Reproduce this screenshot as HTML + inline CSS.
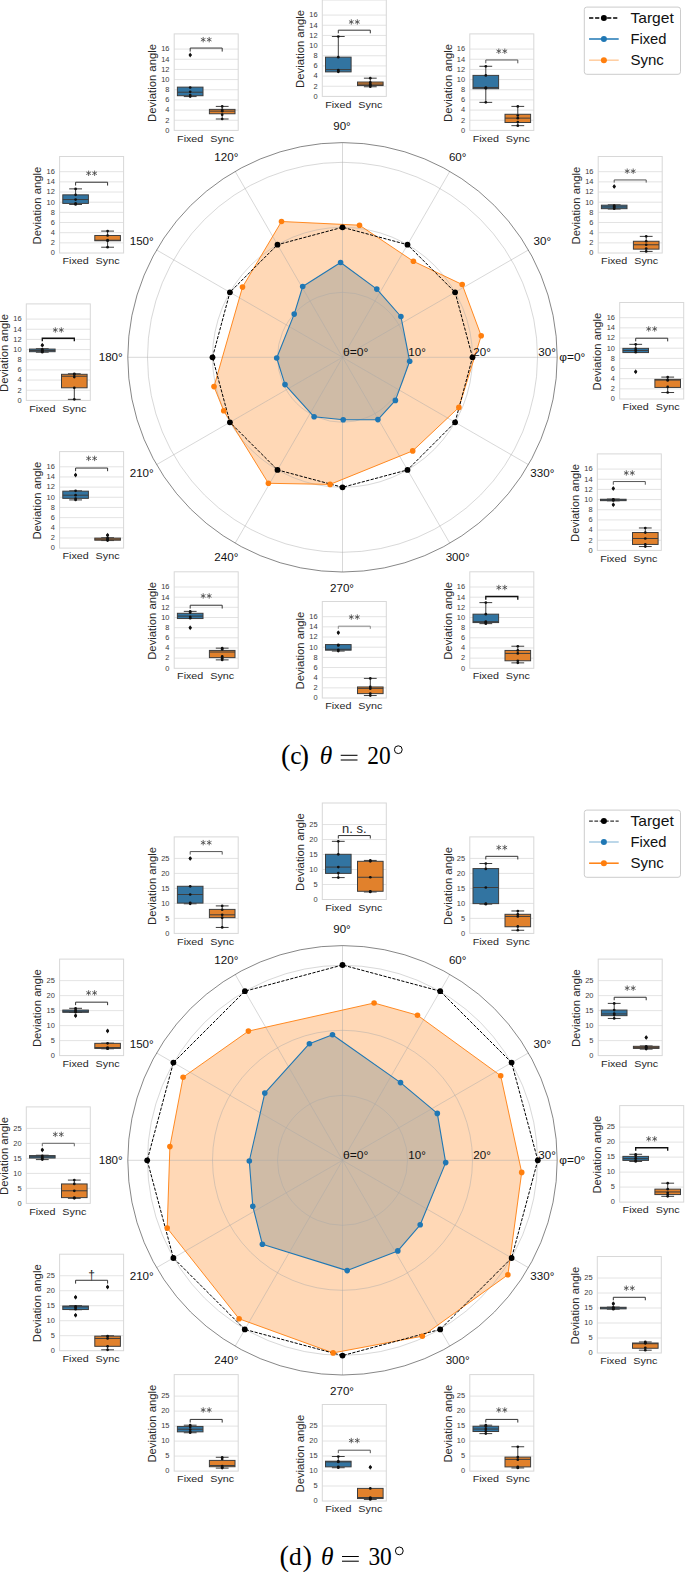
<!DOCTYPE html>
<html><head><meta charset="utf-8"><title>figure</title>
<style>html,body{margin:0;padding:0;background:#fff;}svg{display:block;font-family:"Liberation Sans",sans-serif;}</style>
</head><body>
<svg width="685" height="1572" viewBox="0 0 685 1572">
<rect width="685" height="1572" fill="#fff"/>
<g id="polar-top">
<circle cx="342.5" cy="357.3" r="214.7" fill="#fff"/>
<polygon points="409.7,361.2 400.9,316.5 376.8,289.1 340.6,262.5 302.7,286.5 294.2,314.1 276.7,358.0 285.0,384.6 314.1,416.8 343.2,419.7 377.9,419.6 395.4,400.4" fill="#1f77b4" fill-opacity="0.3"/>
<polygon points="481.2,335.8 462.2,284.5 413.4,261.3 359.5,225.2 281.5,221.5 242.5,287.1 214.0,386.6 223.7,410.7 268.4,483.3 330.1,484.4 412.7,450.9 458.9,407.4" fill="#ff7f0e" fill-opacity="0.3"/>
<line x1="342.5" y1="357.3" x2="557.20" y2="357.30" stroke="#a8a8a8" stroke-opacity="0.75" stroke-width="0.6"/>
<line x1="342.5" y1="357.3" x2="528.44" y2="249.95" stroke="#a8a8a8" stroke-opacity="0.75" stroke-width="0.6"/>
<line x1="342.5" y1="357.3" x2="449.85" y2="171.36" stroke="#a8a8a8" stroke-opacity="0.75" stroke-width="0.6"/>
<line x1="342.5" y1="357.3" x2="342.50" y2="142.60" stroke="#a8a8a8" stroke-opacity="0.75" stroke-width="0.6"/>
<line x1="342.5" y1="357.3" x2="235.15" y2="171.36" stroke="#a8a8a8" stroke-opacity="0.75" stroke-width="0.6"/>
<line x1="342.5" y1="357.3" x2="156.56" y2="249.95" stroke="#a8a8a8" stroke-opacity="0.75" stroke-width="0.6"/>
<line x1="342.5" y1="357.3" x2="127.80" y2="357.30" stroke="#a8a8a8" stroke-opacity="0.75" stroke-width="0.6"/>
<line x1="342.5" y1="357.3" x2="156.56" y2="464.65" stroke="#a8a8a8" stroke-opacity="0.75" stroke-width="0.6"/>
<line x1="342.5" y1="357.3" x2="235.15" y2="543.24" stroke="#a8a8a8" stroke-opacity="0.75" stroke-width="0.6"/>
<line x1="342.5" y1="357.3" x2="342.50" y2="572.00" stroke="#a8a8a8" stroke-opacity="0.75" stroke-width="0.6"/>
<line x1="342.5" y1="357.3" x2="449.85" y2="543.24" stroke="#a8a8a8" stroke-opacity="0.75" stroke-width="0.6"/>
<line x1="342.5" y1="357.3" x2="528.44" y2="464.65" stroke="#a8a8a8" stroke-opacity="0.75" stroke-width="0.6"/>
<circle cx="342.5" cy="357.3" r="65" fill="none" stroke="#a8a8a8" stroke-opacity="0.75" stroke-width="0.6"/>
<circle cx="342.5" cy="357.3" r="130" fill="none" stroke="#a8a8a8" stroke-opacity="0.75" stroke-width="0.6"/>
<circle cx="342.5" cy="357.3" r="195" fill="none" stroke="#a8a8a8" stroke-opacity="0.75" stroke-width="0.6"/>
<circle cx="342.5" cy="357.3" r="214.7" fill="none" stroke="#222" stroke-width="0.55"/>
<polygon points="409.7,361.2 400.9,316.5 376.8,289.1 340.6,262.5 302.7,286.5 294.2,314.1 276.7,358.0 285.0,384.6 314.1,416.8 343.2,419.7 377.9,419.6 395.4,400.4" fill="none" stroke="#1f77b4" stroke-width="1.1" stroke-linejoin="round"/>
<polygon points="481.2,335.8 462.2,284.5 413.4,261.3 359.5,225.2 281.5,221.5 242.5,287.1 214.0,386.6 223.7,410.7 268.4,483.3 330.1,484.4 412.7,450.9 458.9,407.4" fill="none" stroke="#ff7f0e" stroke-width="0.9" stroke-linejoin="round"/>
<polygon points="472.5,357.3 455.1,292.3 407.5,244.7 342.5,227.3 277.5,244.7 229.9,292.3 212.5,357.3 229.9,422.3 277.5,469.9 342.5,487.3 407.5,469.9 455.1,422.3" fill="none" stroke="#000" stroke-width="1" stroke-dasharray="3.2 1.4"/>
<circle cx="409.7" cy="361.2" r="2.8" fill="#1f77b4"/>
<circle cx="400.9" cy="316.5" r="2.8" fill="#1f77b4"/>
<circle cx="376.8" cy="289.1" r="2.8" fill="#1f77b4"/>
<circle cx="340.6" cy="262.5" r="2.8" fill="#1f77b4"/>
<circle cx="302.7" cy="286.5" r="2.8" fill="#1f77b4"/>
<circle cx="294.2" cy="314.1" r="2.8" fill="#1f77b4"/>
<circle cx="276.7" cy="358.0" r="2.8" fill="#1f77b4"/>
<circle cx="285.0" cy="384.6" r="2.8" fill="#1f77b4"/>
<circle cx="314.1" cy="416.8" r="2.8" fill="#1f77b4"/>
<circle cx="343.2" cy="419.7" r="2.8" fill="#1f77b4"/>
<circle cx="377.9" cy="419.6" r="2.8" fill="#1f77b4"/>
<circle cx="395.4" cy="400.4" r="2.8" fill="#1f77b4"/>
<circle cx="481.2" cy="335.8" r="2.8" fill="#ff7f0e"/>
<circle cx="462.2" cy="284.5" r="2.8" fill="#ff7f0e"/>
<circle cx="413.4" cy="261.3" r="2.8" fill="#ff7f0e"/>
<circle cx="359.5" cy="225.2" r="2.8" fill="#ff7f0e"/>
<circle cx="281.5" cy="221.5" r="2.8" fill="#ff7f0e"/>
<circle cx="242.5" cy="287.1" r="2.8" fill="#ff7f0e"/>
<circle cx="214.0" cy="386.6" r="2.8" fill="#ff7f0e"/>
<circle cx="223.7" cy="410.7" r="2.8" fill="#ff7f0e"/>
<circle cx="268.4" cy="483.3" r="2.8" fill="#ff7f0e"/>
<circle cx="330.1" cy="484.4" r="2.8" fill="#ff7f0e"/>
<circle cx="412.7" cy="450.9" r="2.8" fill="#ff7f0e"/>
<circle cx="458.9" cy="407.4" r="2.8" fill="#ff7f0e"/>
<circle cx="472.5" cy="357.3" r="2.9" fill="#000"/>
<circle cx="455.1" cy="292.3" r="2.9" fill="#000"/>
<circle cx="407.5" cy="244.7" r="2.9" fill="#000"/>
<circle cx="342.5" cy="227.3" r="2.9" fill="#000"/>
<circle cx="277.5" cy="244.7" r="2.9" fill="#000"/>
<circle cx="229.9" cy="292.3" r="2.9" fill="#000"/>
<circle cx="212.5" cy="357.3" r="2.9" fill="#000"/>
<circle cx="229.9" cy="422.3" r="2.9" fill="#000"/>
<circle cx="277.5" cy="469.9" r="2.9" fill="#000"/>
<circle cx="342.5" cy="487.3" r="2.9" fill="#000"/>
<circle cx="407.5" cy="469.9" r="2.9" fill="#000"/>
<circle cx="455.1" cy="422.3" r="2.9" fill="#000"/>
<text x="572.30" y="361.00" font-size="10.2" text-anchor="middle" textLength="26" lengthAdjust="spacingAndGlyphs" fill="#111">φ=0°</text>
<text x="542.31" y="245.35" font-size="10.2" text-anchor="middle" textLength="17.5" lengthAdjust="spacingAndGlyphs" fill="#111">30°</text>
<text x="457.65" y="160.69" font-size="10.2" text-anchor="middle" textLength="17.5" lengthAdjust="spacingAndGlyphs" fill="#111">60°</text>
<text x="342.00" y="129.70" font-size="10.2" text-anchor="middle" textLength="17.5" lengthAdjust="spacingAndGlyphs" fill="#111">90°</text>
<text x="226.35" y="160.69" font-size="10.2" text-anchor="middle" textLength="24" lengthAdjust="spacingAndGlyphs" fill="#111">120°</text>
<text x="141.69" y="245.35" font-size="10.2" text-anchor="middle" textLength="24" lengthAdjust="spacingAndGlyphs" fill="#111">150°</text>
<text x="110.70" y="361.00" font-size="10.2" text-anchor="middle" textLength="24" lengthAdjust="spacingAndGlyphs" fill="#111">180°</text>
<text x="141.69" y="476.65" font-size="10.2" text-anchor="middle" textLength="24" lengthAdjust="spacingAndGlyphs" fill="#111">210°</text>
<text x="226.35" y="561.31" font-size="10.2" text-anchor="middle" textLength="24" lengthAdjust="spacingAndGlyphs" fill="#111">240°</text>
<text x="342.00" y="592.30" font-size="10.2" text-anchor="middle" textLength="24" lengthAdjust="spacingAndGlyphs" fill="#111">270°</text>
<text x="457.65" y="561.31" font-size="10.2" text-anchor="middle" textLength="24" lengthAdjust="spacingAndGlyphs" fill="#111">300°</text>
<text x="542.31" y="476.65" font-size="10.2" text-anchor="middle" textLength="24" lengthAdjust="spacingAndGlyphs" fill="#111">330°</text>
<text x="343.00" y="355.60" font-size="10.2" textLength="25.4" lengthAdjust="spacingAndGlyphs" fill="#111">θ=0°</text>
<text x="408.30" y="355.60" font-size="10.2" textLength="17.5" lengthAdjust="spacingAndGlyphs" fill="#111">10°</text>
<text x="473.30" y="355.60" font-size="10.2" textLength="17.5" lengthAdjust="spacingAndGlyphs" fill="#111">20°</text>
<text x="538.30" y="355.60" font-size="10.2" textLength="17.5" lengthAdjust="spacingAndGlyphs" fill="#111">30°</text>
</g>
<g id="polar-bot">
<circle cx="342.5" cy="1160.3" r="214.7" fill="#fff"/>
<polygon points="445.7,1162.6 437.3,1113.4 400.5,1082.6 332.5,1034.7 309.4,1043.7 264.8,1093.1 249.3,1161.0 252.8,1206.3 262.4,1244.3 347.2,1270.6 397.8,1250.9 420.2,1224.8" fill="#1f77b4" fill-opacity="0.3"/>
<polygon points="521.7,1172.4 500.7,1075.7 417.5,1015.2 374.1,1003.0 248.4,1031.1 183.1,1077.2 169.9,1146.6 167.2,1228.1 239.1,1318.8 333.1,1352.9 422.3,1336.2 507.9,1274.8" fill="#ff7f0e" fill-opacity="0.3"/>
<line x1="342.5" y1="1160.3" x2="557.20" y2="1160.30" stroke="#a8a8a8" stroke-opacity="0.75" stroke-width="0.6"/>
<line x1="342.5" y1="1160.3" x2="528.44" y2="1052.95" stroke="#a8a8a8" stroke-opacity="0.75" stroke-width="0.6"/>
<line x1="342.5" y1="1160.3" x2="449.85" y2="974.36" stroke="#a8a8a8" stroke-opacity="0.75" stroke-width="0.6"/>
<line x1="342.5" y1="1160.3" x2="342.50" y2="945.60" stroke="#a8a8a8" stroke-opacity="0.75" stroke-width="0.6"/>
<line x1="342.5" y1="1160.3" x2="235.15" y2="974.36" stroke="#a8a8a8" stroke-opacity="0.75" stroke-width="0.6"/>
<line x1="342.5" y1="1160.3" x2="156.56" y2="1052.95" stroke="#a8a8a8" stroke-opacity="0.75" stroke-width="0.6"/>
<line x1="342.5" y1="1160.3" x2="127.80" y2="1160.30" stroke="#a8a8a8" stroke-opacity="0.75" stroke-width="0.6"/>
<line x1="342.5" y1="1160.3" x2="156.56" y2="1267.65" stroke="#a8a8a8" stroke-opacity="0.75" stroke-width="0.6"/>
<line x1="342.5" y1="1160.3" x2="235.15" y2="1346.24" stroke="#a8a8a8" stroke-opacity="0.75" stroke-width="0.6"/>
<line x1="342.5" y1="1160.3" x2="342.50" y2="1375.00" stroke="#a8a8a8" stroke-opacity="0.75" stroke-width="0.6"/>
<line x1="342.5" y1="1160.3" x2="449.85" y2="1346.24" stroke="#a8a8a8" stroke-opacity="0.75" stroke-width="0.6"/>
<line x1="342.5" y1="1160.3" x2="528.44" y2="1267.65" stroke="#a8a8a8" stroke-opacity="0.75" stroke-width="0.6"/>
<circle cx="342.5" cy="1160.3" r="65" fill="none" stroke="#a8a8a8" stroke-opacity="0.75" stroke-width="0.6"/>
<circle cx="342.5" cy="1160.3" r="130" fill="none" stroke="#a8a8a8" stroke-opacity="0.75" stroke-width="0.6"/>
<circle cx="342.5" cy="1160.3" r="195" fill="none" stroke="#a8a8a8" stroke-opacity="0.75" stroke-width="0.6"/>
<circle cx="342.5" cy="1160.3" r="214.7" fill="none" stroke="#222" stroke-width="0.55"/>
<polygon points="445.7,1162.6 437.3,1113.4 400.5,1082.6 332.5,1034.7 309.4,1043.7 264.8,1093.1 249.3,1161.0 252.8,1206.3 262.4,1244.3 347.2,1270.6 397.8,1250.9 420.2,1224.8" fill="none" stroke="#1f77b4" stroke-width="1.1" stroke-linejoin="round"/>
<polygon points="521.7,1172.4 500.7,1075.7 417.5,1015.2 374.1,1003.0 248.4,1031.1 183.1,1077.2 169.9,1146.6 167.2,1228.1 239.1,1318.8 333.1,1352.9 422.3,1336.2 507.9,1274.8" fill="none" stroke="#ff7f0e" stroke-width="0.9" stroke-linejoin="round"/>
<polygon points="537.8,1160.3 511.6,1062.6 440.2,991.2 342.5,965.0 244.9,991.2 173.4,1062.6 147.2,1160.3 173.4,1258.0 244.8,1329.4 342.5,1355.6 440.2,1329.4 511.6,1258.0" fill="none" stroke="#000" stroke-width="1" stroke-dasharray="3.2 1.4"/>
<circle cx="445.7" cy="1162.6" r="2.8" fill="#1f77b4"/>
<circle cx="437.3" cy="1113.4" r="2.8" fill="#1f77b4"/>
<circle cx="400.5" cy="1082.6" r="2.8" fill="#1f77b4"/>
<circle cx="332.5" cy="1034.7" r="2.8" fill="#1f77b4"/>
<circle cx="309.4" cy="1043.7" r="2.8" fill="#1f77b4"/>
<circle cx="264.8" cy="1093.1" r="2.8" fill="#1f77b4"/>
<circle cx="249.3" cy="1161.0" r="2.8" fill="#1f77b4"/>
<circle cx="252.8" cy="1206.3" r="2.8" fill="#1f77b4"/>
<circle cx="262.4" cy="1244.3" r="2.8" fill="#1f77b4"/>
<circle cx="347.2" cy="1270.6" r="2.8" fill="#1f77b4"/>
<circle cx="397.8" cy="1250.9" r="2.8" fill="#1f77b4"/>
<circle cx="420.2" cy="1224.8" r="2.8" fill="#1f77b4"/>
<circle cx="521.7" cy="1172.4" r="2.8" fill="#ff7f0e"/>
<circle cx="500.7" cy="1075.7" r="2.8" fill="#ff7f0e"/>
<circle cx="417.5" cy="1015.2" r="2.8" fill="#ff7f0e"/>
<circle cx="374.1" cy="1003.0" r="2.8" fill="#ff7f0e"/>
<circle cx="248.4" cy="1031.1" r="2.8" fill="#ff7f0e"/>
<circle cx="183.1" cy="1077.2" r="2.8" fill="#ff7f0e"/>
<circle cx="169.9" cy="1146.6" r="2.8" fill="#ff7f0e"/>
<circle cx="167.2" cy="1228.1" r="2.8" fill="#ff7f0e"/>
<circle cx="239.1" cy="1318.8" r="2.8" fill="#ff7f0e"/>
<circle cx="333.1" cy="1352.9" r="2.8" fill="#ff7f0e"/>
<circle cx="422.3" cy="1336.2" r="2.8" fill="#ff7f0e"/>
<circle cx="507.9" cy="1274.8" r="2.8" fill="#ff7f0e"/>
<circle cx="537.8" cy="1160.3" r="2.9" fill="#000"/>
<circle cx="511.6" cy="1062.6" r="2.9" fill="#000"/>
<circle cx="440.2" cy="991.2" r="2.9" fill="#000"/>
<circle cx="342.5" cy="965.0" r="2.9" fill="#000"/>
<circle cx="244.9" cy="991.2" r="2.9" fill="#000"/>
<circle cx="173.4" cy="1062.6" r="2.9" fill="#000"/>
<circle cx="147.2" cy="1160.3" r="2.9" fill="#000"/>
<circle cx="173.4" cy="1258.0" r="2.9" fill="#000"/>
<circle cx="244.8" cy="1329.4" r="2.9" fill="#000"/>
<circle cx="342.5" cy="1355.6" r="2.9" fill="#000"/>
<circle cx="440.2" cy="1329.4" r="2.9" fill="#000"/>
<circle cx="511.6" cy="1258.0" r="2.9" fill="#000"/>
<text x="572.30" y="1164.00" font-size="10.2" text-anchor="middle" textLength="26" lengthAdjust="spacingAndGlyphs" fill="#111">φ=0°</text>
<text x="542.31" y="1048.35" font-size="10.2" text-anchor="middle" textLength="17.5" lengthAdjust="spacingAndGlyphs" fill="#111">30°</text>
<text x="457.65" y="963.69" font-size="10.2" text-anchor="middle" textLength="17.5" lengthAdjust="spacingAndGlyphs" fill="#111">60°</text>
<text x="342.00" y="932.70" font-size="10.2" text-anchor="middle" textLength="17.5" lengthAdjust="spacingAndGlyphs" fill="#111">90°</text>
<text x="226.35" y="963.69" font-size="10.2" text-anchor="middle" textLength="24" lengthAdjust="spacingAndGlyphs" fill="#111">120°</text>
<text x="141.69" y="1048.35" font-size="10.2" text-anchor="middle" textLength="24" lengthAdjust="spacingAndGlyphs" fill="#111">150°</text>
<text x="110.70" y="1164.00" font-size="10.2" text-anchor="middle" textLength="24" lengthAdjust="spacingAndGlyphs" fill="#111">180°</text>
<text x="141.69" y="1279.65" font-size="10.2" text-anchor="middle" textLength="24" lengthAdjust="spacingAndGlyphs" fill="#111">210°</text>
<text x="226.35" y="1364.31" font-size="10.2" text-anchor="middle" textLength="24" lengthAdjust="spacingAndGlyphs" fill="#111">240°</text>
<text x="342.00" y="1395.30" font-size="10.2" text-anchor="middle" textLength="24" lengthAdjust="spacingAndGlyphs" fill="#111">270°</text>
<text x="457.65" y="1364.31" font-size="10.2" text-anchor="middle" textLength="24" lengthAdjust="spacingAndGlyphs" fill="#111">300°</text>
<text x="542.31" y="1279.65" font-size="10.2" text-anchor="middle" textLength="24" lengthAdjust="spacingAndGlyphs" fill="#111">330°</text>
<text x="343.00" y="1158.60" font-size="10.2" textLength="25.4" lengthAdjust="spacingAndGlyphs" fill="#111">θ=0°</text>
<text x="408.30" y="1158.60" font-size="10.2" textLength="17.5" lengthAdjust="spacingAndGlyphs" fill="#111">10°</text>
<text x="473.30" y="1158.60" font-size="10.2" textLength="17.5" lengthAdjust="spacingAndGlyphs" fill="#111">20°</text>
<text x="538.30" y="1158.60" font-size="10.2" textLength="17.5" lengthAdjust="spacingAndGlyphs" fill="#111">30°</text>
</g>
<g id="it0">
<rect x="174.20" y="33.90" width="64.0" height="96.5" fill="#fff" stroke="none"/>
<text x="169.50" y="132.75" font-size="6.6" text-anchor="end" textLength="4.15" lengthAdjust="spacingAndGlyphs" fill="#3a3a3a">0</text>
<line x1="174.20" y1="120.24" x2="238.20" y2="120.24" stroke="#e0e0e0" stroke-width="0.9"/>
<text x="169.50" y="122.59" font-size="6.6" text-anchor="end" textLength="4.15" lengthAdjust="spacingAndGlyphs" fill="#3a3a3a">2</text>
<line x1="174.20" y1="110.08" x2="238.20" y2="110.08" stroke="#e0e0e0" stroke-width="0.9"/>
<text x="169.50" y="112.42" font-size="6.6" text-anchor="end" textLength="4.15" lengthAdjust="spacingAndGlyphs" fill="#3a3a3a">4</text>
<line x1="174.20" y1="99.91" x2="238.20" y2="99.91" stroke="#e0e0e0" stroke-width="0.9"/>
<text x="169.50" y="102.26" font-size="6.6" text-anchor="end" textLength="4.15" lengthAdjust="spacingAndGlyphs" fill="#3a3a3a">6</text>
<line x1="174.20" y1="89.75" x2="238.20" y2="89.75" stroke="#e0e0e0" stroke-width="0.9"/>
<text x="169.50" y="92.10" font-size="6.6" text-anchor="end" textLength="4.15" lengthAdjust="spacingAndGlyphs" fill="#3a3a3a">8</text>
<line x1="174.20" y1="79.59" x2="238.20" y2="79.59" stroke="#e0e0e0" stroke-width="0.9"/>
<text x="169.50" y="81.94" font-size="6.6" text-anchor="end" textLength="8.30" lengthAdjust="spacingAndGlyphs" fill="#3a3a3a">10</text>
<line x1="174.20" y1="69.43" x2="238.20" y2="69.43" stroke="#e0e0e0" stroke-width="0.9"/>
<text x="169.50" y="71.78" font-size="6.6" text-anchor="end" textLength="8.30" lengthAdjust="spacingAndGlyphs" fill="#3a3a3a">12</text>
<line x1="174.20" y1="59.26" x2="238.20" y2="59.26" stroke="#e0e0e0" stroke-width="0.9"/>
<text x="169.50" y="61.61" font-size="6.6" text-anchor="end" textLength="8.30" lengthAdjust="spacingAndGlyphs" fill="#3a3a3a">14</text>
<line x1="174.20" y1="49.10" x2="238.20" y2="49.10" stroke="#e0e0e0" stroke-width="0.9"/>
<text x="169.50" y="51.45" font-size="6.6" text-anchor="end" textLength="8.30" lengthAdjust="spacingAndGlyphs" fill="#3a3a3a">16</text>
<rect x="174.20" y="33.90" width="64.0" height="96.5" fill="none" stroke="#d8d8d8" stroke-width="1"/>
<line x1="190.20" y1="96.59" x2="190.20" y2="95.71" stroke="#3d3d3d" stroke-width="1"/>
<line x1="183.80" y1="96.59" x2="196.60" y2="96.59" stroke="#3d3d3d" stroke-width="1"/>
<rect x="177.40" y="87.13" width="25.60" height="8.58" fill="#3274a1" stroke="#3d3d3d" stroke-width="1"/>
<line x1="177.40" y1="92.21" x2="203.00" y2="92.21" stroke="#3d3d3d" stroke-width="1"/>
<path d="M190.20 52.57 L191.80 55.07 L190.20 57.57 L188.60 55.07Z" fill="#222"/><circle cx="190.20" cy="55.07" r="1.4" fill="#111"/>
<circle cx="190.20" cy="87.48" r="1.35" fill="#111"/>
<circle cx="190.20" cy="91.86" r="1.35" fill="#111"/>
<circle cx="190.20" cy="95.01" r="1.35" fill="#111"/>
<circle cx="190.20" cy="96.59" r="1.35" fill="#111"/>
<line x1="222.20" y1="106.40" x2="222.20" y2="109.38" stroke="#3d3d3d" stroke-width="1"/>
<line x1="215.80" y1="106.40" x2="228.60" y2="106.40" stroke="#3d3d3d" stroke-width="1"/>
<line x1="222.20" y1="119.01" x2="222.20" y2="113.76" stroke="#3d3d3d" stroke-width="1"/>
<line x1="215.80" y1="119.01" x2="228.60" y2="119.01" stroke="#3d3d3d" stroke-width="1"/>
<rect x="209.40" y="109.38" width="25.60" height="4.38" fill="#e1812c" stroke="#3d3d3d" stroke-width="1"/>
<line x1="209.40" y1="111.13" x2="235.00" y2="111.13" stroke="#3d3d3d" stroke-width="1"/>
<circle cx="222.20" cy="106.40" r="1.35" fill="#111"/>
<circle cx="222.20" cy="109.90" r="1.35" fill="#111"/>
<circle cx="222.20" cy="111.13" r="1.35" fill="#111"/>
<circle cx="222.20" cy="114.63" r="1.35" fill="#111"/>
<circle cx="222.20" cy="119.01" r="1.35" fill="#111"/>
<path d="M190.20 51.57 V48.06 H222.20 V51.57" fill="none" stroke="#333" stroke-width="1"/>
<line x1="203.20" y1="36.96" x2="203.20" y2="42.36" stroke="#444" stroke-width="0.8"/><line x1="200.86" y1="38.31" x2="205.54" y2="41.01" stroke="#444" stroke-width="0.8"/><line x1="205.54" y1="38.31" x2="200.86" y2="41.01" stroke="#444" stroke-width="0.8"/><line x1="209.20" y1="36.96" x2="209.20" y2="42.36" stroke="#444" stroke-width="0.8"/><line x1="206.86" y1="38.31" x2="211.54" y2="41.01" stroke="#444" stroke-width="0.8"/><line x1="211.54" y1="38.31" x2="206.86" y2="41.01" stroke="#444" stroke-width="0.8"/>
<text x="190.20" y="141.50" font-size="9.7" text-anchor="middle" textLength="26.2" lengthAdjust="spacingAndGlyphs" fill="#262626">Fixed</text>
<text x="222.20" y="141.50" font-size="9.7" text-anchor="middle" textLength="24" lengthAdjust="spacingAndGlyphs" fill="#262626">Sync</text>
<text transform="translate(155.90,82.95) rotate(-90)" font-size="11.3" text-anchor="middle" fill="#262626">Deviation angle</text>
</g>
<g id="it1">
<rect x="322.30" y="-0.10" width="64.0" height="96.5" fill="#fff" stroke="none"/>
<text x="317.60" y="98.75" font-size="6.6" text-anchor="end" textLength="4.15" lengthAdjust="spacingAndGlyphs" fill="#3a3a3a">0</text>
<line x1="322.30" y1="86.24" x2="386.30" y2="86.24" stroke="#e0e0e0" stroke-width="0.9"/>
<text x="317.60" y="88.59" font-size="6.6" text-anchor="end" textLength="4.15" lengthAdjust="spacingAndGlyphs" fill="#3a3a3a">2</text>
<line x1="322.30" y1="76.08" x2="386.30" y2="76.08" stroke="#e0e0e0" stroke-width="0.9"/>
<text x="317.60" y="78.42" font-size="6.6" text-anchor="end" textLength="4.15" lengthAdjust="spacingAndGlyphs" fill="#3a3a3a">4</text>
<line x1="322.30" y1="65.91" x2="386.30" y2="65.91" stroke="#e0e0e0" stroke-width="0.9"/>
<text x="317.60" y="68.26" font-size="6.6" text-anchor="end" textLength="4.15" lengthAdjust="spacingAndGlyphs" fill="#3a3a3a">6</text>
<line x1="322.30" y1="55.75" x2="386.30" y2="55.75" stroke="#e0e0e0" stroke-width="0.9"/>
<text x="317.60" y="58.10" font-size="6.6" text-anchor="end" textLength="4.15" lengthAdjust="spacingAndGlyphs" fill="#3a3a3a">8</text>
<line x1="322.30" y1="45.59" x2="386.30" y2="45.59" stroke="#e0e0e0" stroke-width="0.9"/>
<text x="317.60" y="47.94" font-size="6.6" text-anchor="end" textLength="8.30" lengthAdjust="spacingAndGlyphs" fill="#3a3a3a">10</text>
<line x1="322.30" y1="35.43" x2="386.30" y2="35.43" stroke="#e0e0e0" stroke-width="0.9"/>
<text x="317.60" y="37.78" font-size="6.6" text-anchor="end" textLength="8.30" lengthAdjust="spacingAndGlyphs" fill="#3a3a3a">12</text>
<line x1="322.30" y1="25.26" x2="386.30" y2="25.26" stroke="#e0e0e0" stroke-width="0.9"/>
<text x="317.60" y="27.61" font-size="6.6" text-anchor="end" textLength="8.30" lengthAdjust="spacingAndGlyphs" fill="#3a3a3a">14</text>
<line x1="322.30" y1="15.10" x2="386.30" y2="15.10" stroke="#e0e0e0" stroke-width="0.9"/>
<text x="317.60" y="17.45" font-size="6.6" text-anchor="end" textLength="8.30" lengthAdjust="spacingAndGlyphs" fill="#3a3a3a">16</text>
<rect x="322.30" y="-0.10" width="64.0" height="96.5" fill="none" stroke="#d8d8d8" stroke-width="1"/>
<line x1="338.30" y1="36.49" x2="338.30" y2="57.16" stroke="#3d3d3d" stroke-width="1"/>
<line x1="331.90" y1="36.49" x2="344.70" y2="36.49" stroke="#3d3d3d" stroke-width="1"/>
<rect x="325.50" y="57.16" width="25.60" height="14.72" fill="#3274a1" stroke="#3d3d3d" stroke-width="1"/>
<line x1="325.50" y1="69.60" x2="351.10" y2="69.60" stroke="#3d3d3d" stroke-width="1"/>
<circle cx="338.30" cy="36.49" r="1.35" fill="#111"/>
<circle cx="338.30" cy="57.16" r="1.35" fill="#111"/>
<circle cx="338.30" cy="70.12" r="1.35" fill="#111"/>
<circle cx="338.30" cy="71.00" r="1.35" fill="#111"/>
<circle cx="338.30" cy="71.87" r="1.35" fill="#111"/>
<line x1="370.30" y1="78.18" x2="370.30" y2="82.04" stroke="#3d3d3d" stroke-width="1"/>
<line x1="363.90" y1="78.18" x2="376.70" y2="78.18" stroke="#3d3d3d" stroke-width="1"/>
<line x1="370.30" y1="86.76" x2="370.30" y2="85.54" stroke="#3d3d3d" stroke-width="1"/>
<line x1="363.90" y1="86.76" x2="376.70" y2="86.76" stroke="#3d3d3d" stroke-width="1"/>
<rect x="357.50" y="82.04" width="25.60" height="3.50" fill="#e1812c" stroke="#3d3d3d" stroke-width="1"/>
<line x1="357.50" y1="84.14" x2="383.10" y2="84.14" stroke="#3d3d3d" stroke-width="1"/>
<circle cx="370.30" cy="78.18" r="1.35" fill="#111"/>
<circle cx="370.30" cy="82.39" r="1.35" fill="#111"/>
<circle cx="370.30" cy="84.14" r="1.35" fill="#111"/>
<circle cx="370.30" cy="85.54" r="1.35" fill="#111"/>
<circle cx="370.30" cy="86.76" r="1.35" fill="#111"/>
<path d="M338.30 33.33 V30.18 H370.30 V33.33" fill="none" stroke="#333" stroke-width="1"/>
<line x1="351.30" y1="19.25" x2="351.30" y2="24.65" stroke="#444" stroke-width="0.8"/><line x1="348.96" y1="20.60" x2="353.64" y2="23.30" stroke="#444" stroke-width="0.8"/><line x1="353.64" y1="20.60" x2="348.96" y2="23.30" stroke="#444" stroke-width="0.8"/><line x1="357.30" y1="19.25" x2="357.30" y2="24.65" stroke="#444" stroke-width="0.8"/><line x1="354.96" y1="20.60" x2="359.64" y2="23.30" stroke="#444" stroke-width="0.8"/><line x1="359.64" y1="20.60" x2="354.96" y2="23.30" stroke="#444" stroke-width="0.8"/>
<text x="338.30" y="107.50" font-size="9.7" text-anchor="middle" textLength="26.2" lengthAdjust="spacingAndGlyphs" fill="#262626">Fixed</text>
<text x="370.30" y="107.50" font-size="9.7" text-anchor="middle" textLength="24" lengthAdjust="spacingAndGlyphs" fill="#262626">Sync</text>
<text transform="translate(304.00,48.95) rotate(-90)" font-size="11.3" text-anchor="middle" fill="#262626">Deviation angle</text>
</g>
<g id="it2">
<rect x="469.80" y="33.90" width="64.0" height="96.5" fill="#fff" stroke="none"/>
<text x="465.10" y="132.75" font-size="6.6" text-anchor="end" textLength="4.15" lengthAdjust="spacingAndGlyphs" fill="#3a3a3a">0</text>
<line x1="469.80" y1="120.24" x2="533.80" y2="120.24" stroke="#e0e0e0" stroke-width="0.9"/>
<text x="465.10" y="122.59" font-size="6.6" text-anchor="end" textLength="4.15" lengthAdjust="spacingAndGlyphs" fill="#3a3a3a">2</text>
<line x1="469.80" y1="110.08" x2="533.80" y2="110.08" stroke="#e0e0e0" stroke-width="0.9"/>
<text x="465.10" y="112.42" font-size="6.6" text-anchor="end" textLength="4.15" lengthAdjust="spacingAndGlyphs" fill="#3a3a3a">4</text>
<line x1="469.80" y1="99.91" x2="533.80" y2="99.91" stroke="#e0e0e0" stroke-width="0.9"/>
<text x="465.10" y="102.26" font-size="6.6" text-anchor="end" textLength="4.15" lengthAdjust="spacingAndGlyphs" fill="#3a3a3a">6</text>
<line x1="469.80" y1="89.75" x2="533.80" y2="89.75" stroke="#e0e0e0" stroke-width="0.9"/>
<text x="465.10" y="92.10" font-size="6.6" text-anchor="end" textLength="4.15" lengthAdjust="spacingAndGlyphs" fill="#3a3a3a">8</text>
<line x1="469.80" y1="79.59" x2="533.80" y2="79.59" stroke="#e0e0e0" stroke-width="0.9"/>
<text x="465.10" y="81.94" font-size="6.6" text-anchor="end" textLength="8.30" lengthAdjust="spacingAndGlyphs" fill="#3a3a3a">10</text>
<line x1="469.80" y1="69.43" x2="533.80" y2="69.43" stroke="#e0e0e0" stroke-width="0.9"/>
<text x="465.10" y="71.78" font-size="6.6" text-anchor="end" textLength="8.30" lengthAdjust="spacingAndGlyphs" fill="#3a3a3a">12</text>
<line x1="469.80" y1="59.26" x2="533.80" y2="59.26" stroke="#e0e0e0" stroke-width="0.9"/>
<text x="465.10" y="61.61" font-size="6.6" text-anchor="end" textLength="8.30" lengthAdjust="spacingAndGlyphs" fill="#3a3a3a">14</text>
<line x1="469.80" y1="49.10" x2="533.80" y2="49.10" stroke="#e0e0e0" stroke-width="0.9"/>
<text x="465.10" y="51.45" font-size="6.6" text-anchor="end" textLength="8.30" lengthAdjust="spacingAndGlyphs" fill="#3a3a3a">16</text>
<rect x="469.80" y="33.90" width="64.0" height="96.5" fill="none" stroke="#d8d8d8" stroke-width="1"/>
<line x1="485.80" y1="66.28" x2="485.80" y2="75.39" stroke="#3d3d3d" stroke-width="1"/>
<line x1="479.40" y1="66.28" x2="492.20" y2="66.28" stroke="#3d3d3d" stroke-width="1"/>
<line x1="485.80" y1="102.37" x2="485.80" y2="88.71" stroke="#3d3d3d" stroke-width="1"/>
<line x1="479.40" y1="102.37" x2="492.20" y2="102.37" stroke="#3d3d3d" stroke-width="1"/>
<rect x="473.00" y="75.39" width="25.60" height="13.31" fill="#3274a1" stroke="#3d3d3d" stroke-width="1"/>
<line x1="473.00" y1="87.48" x2="498.60" y2="87.48" stroke="#3d3d3d" stroke-width="1"/>
<circle cx="485.80" cy="66.28" r="1.35" fill="#111"/>
<circle cx="485.80" cy="75.39" r="1.35" fill="#111"/>
<circle cx="485.80" cy="87.48" r="1.35" fill="#111"/>
<circle cx="485.80" cy="88.36" r="1.35" fill="#111"/>
<circle cx="485.80" cy="102.37" r="1.35" fill="#111"/>
<line x1="517.80" y1="106.40" x2="517.80" y2="114.28" stroke="#3d3d3d" stroke-width="1"/>
<line x1="511.40" y1="106.40" x2="524.20" y2="106.40" stroke="#3d3d3d" stroke-width="1"/>
<line x1="517.80" y1="125.67" x2="517.80" y2="122.52" stroke="#3d3d3d" stroke-width="1"/>
<line x1="511.40" y1="125.67" x2="524.20" y2="125.67" stroke="#3d3d3d" stroke-width="1"/>
<rect x="505.00" y="114.28" width="25.60" height="8.23" fill="#e1812c" stroke="#3d3d3d" stroke-width="1"/>
<line x1="505.00" y1="118.14" x2="530.60" y2="118.14" stroke="#3d3d3d" stroke-width="1"/>
<circle cx="517.80" cy="106.40" r="1.35" fill="#111"/>
<circle cx="517.80" cy="115.51" r="1.35" fill="#111"/>
<circle cx="517.80" cy="118.14" r="1.35" fill="#111"/>
<circle cx="517.80" cy="121.99" r="1.35" fill="#111"/>
<circle cx="517.80" cy="125.67" r="1.35" fill="#111"/>
<path d="M485.80 63.31 V59.98 H517.80 V63.31" fill="none" stroke="#555" stroke-width="1"/>
<line x1="498.80" y1="48.52" x2="498.80" y2="53.92" stroke="#444" stroke-width="0.8"/><line x1="496.46" y1="49.87" x2="501.14" y2="52.57" stroke="#444" stroke-width="0.8"/><line x1="501.14" y1="49.87" x2="496.46" y2="52.57" stroke="#444" stroke-width="0.8"/><line x1="504.80" y1="48.52" x2="504.80" y2="53.92" stroke="#444" stroke-width="0.8"/><line x1="502.46" y1="49.87" x2="507.14" y2="52.57" stroke="#444" stroke-width="0.8"/><line x1="507.14" y1="49.87" x2="502.46" y2="52.57" stroke="#444" stroke-width="0.8"/>
<text x="485.80" y="141.50" font-size="9.7" text-anchor="middle" textLength="26.2" lengthAdjust="spacingAndGlyphs" fill="#262626">Fixed</text>
<text x="517.80" y="141.50" font-size="9.7" text-anchor="middle" textLength="24" lengthAdjust="spacingAndGlyphs" fill="#262626">Sync</text>
<text transform="translate(451.50,82.95) rotate(-90)" font-size="11.3" text-anchor="middle" fill="#262626">Deviation angle</text>
</g>
<g id="it3">
<rect x="598.20" y="156.50" width="64.0" height="96.5" fill="#fff" stroke="none"/>
<text x="593.50" y="255.35" font-size="6.6" text-anchor="end" textLength="4.15" lengthAdjust="spacingAndGlyphs" fill="#3a3a3a">0</text>
<line x1="598.20" y1="242.84" x2="662.20" y2="242.84" stroke="#e0e0e0" stroke-width="0.9"/>
<text x="593.50" y="245.19" font-size="6.6" text-anchor="end" textLength="4.15" lengthAdjust="spacingAndGlyphs" fill="#3a3a3a">2</text>
<line x1="598.20" y1="232.68" x2="662.20" y2="232.68" stroke="#e0e0e0" stroke-width="0.9"/>
<text x="593.50" y="235.03" font-size="6.6" text-anchor="end" textLength="4.15" lengthAdjust="spacingAndGlyphs" fill="#3a3a3a">4</text>
<line x1="598.20" y1="222.51" x2="662.20" y2="222.51" stroke="#e0e0e0" stroke-width="0.9"/>
<text x="593.50" y="224.86" font-size="6.6" text-anchor="end" textLength="4.15" lengthAdjust="spacingAndGlyphs" fill="#3a3a3a">6</text>
<line x1="598.20" y1="212.35" x2="662.20" y2="212.35" stroke="#e0e0e0" stroke-width="0.9"/>
<text x="593.50" y="214.70" font-size="6.6" text-anchor="end" textLength="4.15" lengthAdjust="spacingAndGlyphs" fill="#3a3a3a">8</text>
<line x1="598.20" y1="202.19" x2="662.20" y2="202.19" stroke="#e0e0e0" stroke-width="0.9"/>
<text x="593.50" y="204.54" font-size="6.6" text-anchor="end" textLength="8.30" lengthAdjust="spacingAndGlyphs" fill="#3a3a3a">10</text>
<line x1="598.20" y1="192.03" x2="662.20" y2="192.03" stroke="#e0e0e0" stroke-width="0.9"/>
<text x="593.50" y="194.38" font-size="6.6" text-anchor="end" textLength="8.30" lengthAdjust="spacingAndGlyphs" fill="#3a3a3a">12</text>
<line x1="598.20" y1="181.86" x2="662.20" y2="181.86" stroke="#e0e0e0" stroke-width="0.9"/>
<text x="593.50" y="184.21" font-size="6.6" text-anchor="end" textLength="8.30" lengthAdjust="spacingAndGlyphs" fill="#3a3a3a">14</text>
<line x1="598.20" y1="171.70" x2="662.20" y2="171.70" stroke="#e0e0e0" stroke-width="0.9"/>
<text x="593.50" y="174.05" font-size="6.6" text-anchor="end" textLength="8.30" lengthAdjust="spacingAndGlyphs" fill="#3a3a3a">16</text>
<rect x="598.20" y="156.50" width="64.0" height="96.5" fill="none" stroke="#d8d8d8" stroke-width="1"/>
<line x1="614.20" y1="204.82" x2="614.20" y2="205.18" stroke="#3d3d3d" stroke-width="1"/>
<line x1="607.80" y1="204.82" x2="620.60" y2="204.82" stroke="#3d3d3d" stroke-width="1"/>
<line x1="614.20" y1="209.03" x2="614.20" y2="208.68" stroke="#3d3d3d" stroke-width="1"/>
<line x1="607.80" y1="209.03" x2="620.60" y2="209.03" stroke="#3d3d3d" stroke-width="1"/>
<rect x="601.40" y="205.18" width="25.60" height="3.50" fill="#3274a1" stroke="#3d3d3d" stroke-width="1"/>
<line x1="601.40" y1="206.93" x2="627.00" y2="206.93" stroke="#3d3d3d" stroke-width="1"/>
<path d="M614.20 184.11 L615.80 186.61 L614.20 189.11 L612.60 186.61Z" fill="#222"/><circle cx="614.20" cy="186.61" r="1.4" fill="#111"/>
<circle cx="614.20" cy="205.53" r="1.35" fill="#111"/>
<circle cx="614.20" cy="206.58" r="1.35" fill="#111"/>
<circle cx="614.20" cy="207.63" r="1.35" fill="#111"/>
<circle cx="614.20" cy="208.68" r="1.35" fill="#111"/>
<line x1="646.20" y1="236.36" x2="646.20" y2="241.26" stroke="#3d3d3d" stroke-width="1"/>
<line x1="639.80" y1="236.36" x2="652.60" y2="236.36" stroke="#3d3d3d" stroke-width="1"/>
<line x1="646.20" y1="251.42" x2="646.20" y2="249.15" stroke="#3d3d3d" stroke-width="1"/>
<line x1="639.80" y1="251.42" x2="652.60" y2="251.42" stroke="#3d3d3d" stroke-width="1"/>
<rect x="633.40" y="241.26" width="25.60" height="7.88" fill="#e1812c" stroke="#3d3d3d" stroke-width="1"/>
<line x1="633.40" y1="244.77" x2="659.00" y2="244.77" stroke="#3d3d3d" stroke-width="1"/>
<circle cx="646.20" cy="236.36" r="1.35" fill="#111"/>
<circle cx="646.20" cy="241.26" r="1.35" fill="#111"/>
<circle cx="646.20" cy="244.77" r="1.35" fill="#111"/>
<circle cx="646.20" cy="248.62" r="1.35" fill="#111"/>
<circle cx="646.20" cy="251.42" r="1.35" fill="#111"/>
<path d="M614.20 182.58 V179.95 H646.20 V182.58" fill="none" stroke="#555" stroke-width="1"/>
<line x1="627.20" y1="168.49" x2="627.20" y2="173.89" stroke="#444" stroke-width="0.8"/><line x1="624.86" y1="169.84" x2="629.54" y2="172.54" stroke="#444" stroke-width="0.8"/><line x1="629.54" y1="169.84" x2="624.86" y2="172.54" stroke="#444" stroke-width="0.8"/><line x1="633.20" y1="168.49" x2="633.20" y2="173.89" stroke="#444" stroke-width="0.8"/><line x1="630.86" y1="169.84" x2="635.54" y2="172.54" stroke="#444" stroke-width="0.8"/><line x1="635.54" y1="169.84" x2="630.86" y2="172.54" stroke="#444" stroke-width="0.8"/>
<text x="614.20" y="264.10" font-size="9.7" text-anchor="middle" textLength="26.2" lengthAdjust="spacingAndGlyphs" fill="#262626">Fixed</text>
<text x="646.20" y="264.10" font-size="9.7" text-anchor="middle" textLength="24" lengthAdjust="spacingAndGlyphs" fill="#262626">Sync</text>
<text transform="translate(579.90,205.55) rotate(-90)" font-size="11.3" text-anchor="middle" fill="#262626">Deviation angle</text>
</g>
<g id="it4">
<rect x="619.70" y="302.50" width="64.0" height="96.5" fill="#fff" stroke="none"/>
<text x="615.00" y="401.35" font-size="6.6" text-anchor="end" textLength="4.15" lengthAdjust="spacingAndGlyphs" fill="#3a3a3a">0</text>
<line x1="619.70" y1="388.84" x2="683.70" y2="388.84" stroke="#e0e0e0" stroke-width="0.9"/>
<text x="615.00" y="391.19" font-size="6.6" text-anchor="end" textLength="4.15" lengthAdjust="spacingAndGlyphs" fill="#3a3a3a">2</text>
<line x1="619.70" y1="378.68" x2="683.70" y2="378.68" stroke="#e0e0e0" stroke-width="0.9"/>
<text x="615.00" y="381.03" font-size="6.6" text-anchor="end" textLength="4.15" lengthAdjust="spacingAndGlyphs" fill="#3a3a3a">4</text>
<line x1="619.70" y1="368.51" x2="683.70" y2="368.51" stroke="#e0e0e0" stroke-width="0.9"/>
<text x="615.00" y="370.86" font-size="6.6" text-anchor="end" textLength="4.15" lengthAdjust="spacingAndGlyphs" fill="#3a3a3a">6</text>
<line x1="619.70" y1="358.35" x2="683.70" y2="358.35" stroke="#e0e0e0" stroke-width="0.9"/>
<text x="615.00" y="360.70" font-size="6.6" text-anchor="end" textLength="4.15" lengthAdjust="spacingAndGlyphs" fill="#3a3a3a">8</text>
<line x1="619.70" y1="348.19" x2="683.70" y2="348.19" stroke="#e0e0e0" stroke-width="0.9"/>
<text x="615.00" y="350.54" font-size="6.6" text-anchor="end" textLength="8.30" lengthAdjust="spacingAndGlyphs" fill="#3a3a3a">10</text>
<line x1="619.70" y1="338.02" x2="683.70" y2="338.02" stroke="#e0e0e0" stroke-width="0.9"/>
<text x="615.00" y="340.38" font-size="6.6" text-anchor="end" textLength="8.30" lengthAdjust="spacingAndGlyphs" fill="#3a3a3a">12</text>
<line x1="619.70" y1="327.86" x2="683.70" y2="327.86" stroke="#e0e0e0" stroke-width="0.9"/>
<text x="615.00" y="330.21" font-size="6.6" text-anchor="end" textLength="8.30" lengthAdjust="spacingAndGlyphs" fill="#3a3a3a">14</text>
<line x1="619.70" y1="317.70" x2="683.70" y2="317.70" stroke="#e0e0e0" stroke-width="0.9"/>
<text x="615.00" y="320.05" font-size="6.6" text-anchor="end" textLength="8.30" lengthAdjust="spacingAndGlyphs" fill="#3a3a3a">16</text>
<rect x="619.70" y="302.50" width="64.0" height="96.5" fill="none" stroke="#d8d8d8" stroke-width="1"/>
<line x1="635.70" y1="344.34" x2="635.70" y2="348.37" stroke="#3d3d3d" stroke-width="1"/>
<line x1="629.30" y1="344.34" x2="642.10" y2="344.34" stroke="#3d3d3d" stroke-width="1"/>
<rect x="622.90" y="348.37" width="25.60" height="4.20" fill="#3274a1" stroke="#3d3d3d" stroke-width="1"/>
<line x1="622.90" y1="350.47" x2="648.50" y2="350.47" stroke="#3d3d3d" stroke-width="1"/>
<path d="M635.70 369.35 L637.30 371.85 L635.70 374.35 L634.10 371.85Z" fill="#222"/><circle cx="635.70" cy="371.85" r="1.4" fill="#111"/>
<circle cx="635.70" cy="344.34" r="1.35" fill="#111"/>
<circle cx="635.70" cy="348.72" r="1.35" fill="#111"/>
<circle cx="635.70" cy="350.47" r="1.35" fill="#111"/>
<circle cx="635.70" cy="352.23" r="1.35" fill="#111"/>
<line x1="667.70" y1="377.10" x2="667.70" y2="379.38" stroke="#3d3d3d" stroke-width="1"/>
<line x1="661.30" y1="377.10" x2="674.10" y2="377.10" stroke="#3d3d3d" stroke-width="1"/>
<line x1="667.70" y1="392.52" x2="667.70" y2="387.44" stroke="#3d3d3d" stroke-width="1"/>
<line x1="661.30" y1="392.52" x2="674.10" y2="392.52" stroke="#3d3d3d" stroke-width="1"/>
<rect x="654.90" y="379.38" width="25.60" height="8.06" fill="#e1812c" stroke="#3d3d3d" stroke-width="1"/>
<line x1="654.90" y1="380.08" x2="680.50" y2="380.08" stroke="#3d3d3d" stroke-width="1"/>
<circle cx="667.70" cy="377.10" r="1.35" fill="#111"/>
<circle cx="667.70" cy="379.73" r="1.35" fill="#111"/>
<circle cx="667.70" cy="380.43" r="1.35" fill="#111"/>
<circle cx="667.70" cy="386.91" r="1.35" fill="#111"/>
<circle cx="667.70" cy="392.52" r="1.35" fill="#111"/>
<path d="M635.70 341.36 V338.21 H667.70 V341.36" fill="none" stroke="#333" stroke-width="1"/>
<line x1="648.70" y1="326.23" x2="648.70" y2="331.63" stroke="#444" stroke-width="0.8"/><line x1="646.36" y1="327.58" x2="651.04" y2="330.28" stroke="#444" stroke-width="0.8"/><line x1="651.04" y1="327.58" x2="646.36" y2="330.28" stroke="#444" stroke-width="0.8"/><line x1="654.70" y1="326.23" x2="654.70" y2="331.63" stroke="#444" stroke-width="0.8"/><line x1="652.36" y1="327.58" x2="657.04" y2="330.28" stroke="#444" stroke-width="0.8"/><line x1="657.04" y1="327.58" x2="652.36" y2="330.28" stroke="#444" stroke-width="0.8"/>
<text x="635.70" y="410.10" font-size="9.7" text-anchor="middle" textLength="26.2" lengthAdjust="spacingAndGlyphs" fill="#262626">Fixed</text>
<text x="667.70" y="410.10" font-size="9.7" text-anchor="middle" textLength="24" lengthAdjust="spacingAndGlyphs" fill="#262626">Sync</text>
<text transform="translate(601.40,351.55) rotate(-90)" font-size="11.3" text-anchor="middle" fill="#262626">Deviation angle</text>
</g>
<g id="it5">
<rect x="597.30" y="453.90" width="64.0" height="96.5" fill="#fff" stroke="none"/>
<text x="592.60" y="552.75" font-size="6.6" text-anchor="end" textLength="4.15" lengthAdjust="spacingAndGlyphs" fill="#3a3a3a">0</text>
<line x1="597.30" y1="540.24" x2="661.30" y2="540.24" stroke="#e0e0e0" stroke-width="0.9"/>
<text x="592.60" y="542.59" font-size="6.6" text-anchor="end" textLength="4.15" lengthAdjust="spacingAndGlyphs" fill="#3a3a3a">2</text>
<line x1="597.30" y1="530.07" x2="661.30" y2="530.07" stroke="#e0e0e0" stroke-width="0.9"/>
<text x="592.60" y="532.42" font-size="6.6" text-anchor="end" textLength="4.15" lengthAdjust="spacingAndGlyphs" fill="#3a3a3a">4</text>
<line x1="597.30" y1="519.91" x2="661.30" y2="519.91" stroke="#e0e0e0" stroke-width="0.9"/>
<text x="592.60" y="522.26" font-size="6.6" text-anchor="end" textLength="4.15" lengthAdjust="spacingAndGlyphs" fill="#3a3a3a">6</text>
<line x1="597.30" y1="509.75" x2="661.30" y2="509.75" stroke="#e0e0e0" stroke-width="0.9"/>
<text x="592.60" y="512.10" font-size="6.6" text-anchor="end" textLength="4.15" lengthAdjust="spacingAndGlyphs" fill="#3a3a3a">8</text>
<line x1="597.30" y1="499.59" x2="661.30" y2="499.59" stroke="#e0e0e0" stroke-width="0.9"/>
<text x="592.60" y="501.94" font-size="6.6" text-anchor="end" textLength="8.30" lengthAdjust="spacingAndGlyphs" fill="#3a3a3a">10</text>
<line x1="597.30" y1="489.42" x2="661.30" y2="489.42" stroke="#e0e0e0" stroke-width="0.9"/>
<text x="592.60" y="491.77" font-size="6.6" text-anchor="end" textLength="8.30" lengthAdjust="spacingAndGlyphs" fill="#3a3a3a">12</text>
<line x1="597.30" y1="479.26" x2="661.30" y2="479.26" stroke="#e0e0e0" stroke-width="0.9"/>
<text x="592.60" y="481.61" font-size="6.6" text-anchor="end" textLength="8.30" lengthAdjust="spacingAndGlyphs" fill="#3a3a3a">14</text>
<line x1="597.30" y1="469.10" x2="661.30" y2="469.10" stroke="#e0e0e0" stroke-width="0.9"/>
<text x="592.60" y="471.45" font-size="6.6" text-anchor="end" textLength="8.30" lengthAdjust="spacingAndGlyphs" fill="#3a3a3a">16</text>
<rect x="597.30" y="453.90" width="64.0" height="96.5" fill="none" stroke="#d8d8d8" stroke-width="1"/>
<line x1="613.30" y1="499.07" x2="613.30" y2="499.25" stroke="#3d3d3d" stroke-width="1"/>
<line x1="606.90" y1="499.07" x2="619.70" y2="499.07" stroke="#3d3d3d" stroke-width="1"/>
<line x1="613.30" y1="500.82" x2="613.30" y2="500.65" stroke="#3d3d3d" stroke-width="1"/>
<line x1="606.90" y1="500.82" x2="619.70" y2="500.82" stroke="#3d3d3d" stroke-width="1"/>
<rect x="600.50" y="499.25" width="25.60" height="1.40" fill="#3274a1" stroke="#3d3d3d" stroke-width="1"/>
<line x1="600.50" y1="499.95" x2="626.10" y2="499.95" stroke="#3d3d3d" stroke-width="1"/>
<path d="M613.30 486.06 L614.90 488.56 L613.30 491.06 L611.70 488.56Z" fill="#222"/><circle cx="613.30" cy="488.56" r="1.4" fill="#111"/>
<path d="M613.30 502.35 L614.90 504.85 L613.30 507.35 L611.70 504.85Z" fill="#222"/><circle cx="613.30" cy="504.85" r="1.4" fill="#111"/>
<circle cx="613.30" cy="499.25" r="1.35" fill="#111"/>
<circle cx="613.30" cy="499.95" r="1.35" fill="#111"/>
<circle cx="613.30" cy="500.47" r="1.35" fill="#111"/>
<line x1="645.30" y1="527.98" x2="645.30" y2="532.53" stroke="#3d3d3d" stroke-width="1"/>
<line x1="638.90" y1="527.98" x2="651.70" y2="527.98" stroke="#3d3d3d" stroke-width="1"/>
<line x1="645.30" y1="546.55" x2="645.30" y2="544.44" stroke="#3d3d3d" stroke-width="1"/>
<line x1="638.90" y1="546.55" x2="651.70" y2="546.55" stroke="#3d3d3d" stroke-width="1"/>
<rect x="632.50" y="532.53" width="25.60" height="11.91" fill="#e1812c" stroke="#3d3d3d" stroke-width="1"/>
<line x1="632.50" y1="538.49" x2="658.10" y2="538.49" stroke="#3d3d3d" stroke-width="1"/>
<circle cx="645.30" cy="527.98" r="1.35" fill="#111"/>
<circle cx="645.30" cy="532.53" r="1.35" fill="#111"/>
<circle cx="645.30" cy="538.49" r="1.35" fill="#111"/>
<circle cx="645.30" cy="544.44" r="1.35" fill="#111"/>
<circle cx="645.30" cy="546.55" r="1.35" fill="#111"/>
<path d="M613.30 484.71 V481.55 H645.30 V484.71" fill="none" stroke="#555" stroke-width="1"/>
<line x1="626.30" y1="470.27" x2="626.30" y2="475.67" stroke="#444" stroke-width="0.8"/><line x1="623.96" y1="471.62" x2="628.64" y2="474.32" stroke="#444" stroke-width="0.8"/><line x1="628.64" y1="471.62" x2="623.96" y2="474.32" stroke="#444" stroke-width="0.8"/><line x1="632.30" y1="470.27" x2="632.30" y2="475.67" stroke="#444" stroke-width="0.8"/><line x1="629.96" y1="471.62" x2="634.64" y2="474.32" stroke="#444" stroke-width="0.8"/><line x1="634.64" y1="471.62" x2="629.96" y2="474.32" stroke="#444" stroke-width="0.8"/>
<text x="613.30" y="561.50" font-size="9.7" text-anchor="middle" textLength="26.2" lengthAdjust="spacingAndGlyphs" fill="#262626">Fixed</text>
<text x="645.30" y="561.50" font-size="9.7" text-anchor="middle" textLength="24" lengthAdjust="spacingAndGlyphs" fill="#262626">Sync</text>
<text transform="translate(579.00,502.95) rotate(-90)" font-size="11.3" text-anchor="middle" fill="#262626">Deviation angle</text>
</g>
<g id="it6">
<rect x="469.80" y="571.80" width="64.0" height="96.5" fill="#fff" stroke="none"/>
<text x="465.10" y="670.65" font-size="6.6" text-anchor="end" textLength="4.15" lengthAdjust="spacingAndGlyphs" fill="#3a3a3a">0</text>
<line x1="469.80" y1="658.14" x2="533.80" y2="658.14" stroke="#e0e0e0" stroke-width="0.9"/>
<text x="465.10" y="660.49" font-size="6.6" text-anchor="end" textLength="4.15" lengthAdjust="spacingAndGlyphs" fill="#3a3a3a">2</text>
<line x1="469.80" y1="647.97" x2="533.80" y2="647.97" stroke="#e0e0e0" stroke-width="0.9"/>
<text x="465.10" y="650.32" font-size="6.6" text-anchor="end" textLength="4.15" lengthAdjust="spacingAndGlyphs" fill="#3a3a3a">4</text>
<line x1="469.80" y1="637.81" x2="533.80" y2="637.81" stroke="#e0e0e0" stroke-width="0.9"/>
<text x="465.10" y="640.16" font-size="6.6" text-anchor="end" textLength="4.15" lengthAdjust="spacingAndGlyphs" fill="#3a3a3a">6</text>
<line x1="469.80" y1="627.65" x2="533.80" y2="627.65" stroke="#e0e0e0" stroke-width="0.9"/>
<text x="465.10" y="630.00" font-size="6.6" text-anchor="end" textLength="4.15" lengthAdjust="spacingAndGlyphs" fill="#3a3a3a">8</text>
<line x1="469.80" y1="617.49" x2="533.80" y2="617.49" stroke="#e0e0e0" stroke-width="0.9"/>
<text x="465.10" y="619.84" font-size="6.6" text-anchor="end" textLength="8.30" lengthAdjust="spacingAndGlyphs" fill="#3a3a3a">10</text>
<line x1="469.80" y1="607.32" x2="533.80" y2="607.32" stroke="#e0e0e0" stroke-width="0.9"/>
<text x="465.10" y="609.67" font-size="6.6" text-anchor="end" textLength="8.30" lengthAdjust="spacingAndGlyphs" fill="#3a3a3a">12</text>
<line x1="469.80" y1="597.16" x2="533.80" y2="597.16" stroke="#e0e0e0" stroke-width="0.9"/>
<text x="465.10" y="599.51" font-size="6.6" text-anchor="end" textLength="8.30" lengthAdjust="spacingAndGlyphs" fill="#3a3a3a">14</text>
<line x1="469.80" y1="587.00" x2="533.80" y2="587.00" stroke="#e0e0e0" stroke-width="0.9"/>
<text x="465.10" y="589.35" font-size="6.6" text-anchor="end" textLength="8.30" lengthAdjust="spacingAndGlyphs" fill="#3a3a3a">16</text>
<rect x="469.80" y="571.80" width="64.0" height="96.5" fill="none" stroke="#d8d8d8" stroke-width="1"/>
<line x1="485.80" y1="602.61" x2="485.80" y2="614.17" stroke="#3d3d3d" stroke-width="1"/>
<line x1="479.40" y1="602.61" x2="492.20" y2="602.61" stroke="#3d3d3d" stroke-width="1"/>
<line x1="485.80" y1="623.63" x2="485.80" y2="622.58" stroke="#3d3d3d" stroke-width="1"/>
<line x1="479.40" y1="623.63" x2="492.20" y2="623.63" stroke="#3d3d3d" stroke-width="1"/>
<rect x="473.00" y="614.17" width="25.60" height="8.41" fill="#3274a1" stroke="#3d3d3d" stroke-width="1"/>
<line x1="473.00" y1="621.70" x2="498.60" y2="621.70" stroke="#3d3d3d" stroke-width="1"/>
<circle cx="485.80" cy="602.61" r="1.35" fill="#111"/>
<circle cx="485.80" cy="614.17" r="1.35" fill="#111"/>
<circle cx="485.80" cy="621.70" r="1.35" fill="#111"/>
<circle cx="485.80" cy="622.58" r="1.35" fill="#111"/>
<circle cx="485.80" cy="623.63" r="1.35" fill="#111"/>
<line x1="517.80" y1="646.23" x2="517.80" y2="650.43" stroke="#3d3d3d" stroke-width="1"/>
<line x1="511.40" y1="646.23" x2="524.20" y2="646.23" stroke="#3d3d3d" stroke-width="1"/>
<line x1="517.80" y1="662.87" x2="517.80" y2="660.77" stroke="#3d3d3d" stroke-width="1"/>
<line x1="511.40" y1="662.87" x2="524.20" y2="662.87" stroke="#3d3d3d" stroke-width="1"/>
<rect x="505.00" y="650.43" width="25.60" height="10.34" fill="#e1812c" stroke="#3d3d3d" stroke-width="1"/>
<line x1="505.00" y1="653.41" x2="530.60" y2="653.41" stroke="#3d3d3d" stroke-width="1"/>
<circle cx="517.80" cy="646.23" r="1.35" fill="#111"/>
<circle cx="517.80" cy="650.43" r="1.35" fill="#111"/>
<circle cx="517.80" cy="653.41" r="1.35" fill="#111"/>
<circle cx="517.80" cy="660.77" r="1.35" fill="#111"/>
<circle cx="517.80" cy="662.87" r="1.35" fill="#111"/>
<path d="M485.80 599.80 V596.48 H517.80 V599.80" fill="none" stroke="#111" stroke-width="1.35"/>
<line x1="498.80" y1="584.84" x2="498.80" y2="590.24" stroke="#444" stroke-width="0.8"/><line x1="496.46" y1="586.19" x2="501.14" y2="588.89" stroke="#444" stroke-width="0.8"/><line x1="501.14" y1="586.19" x2="496.46" y2="588.89" stroke="#444" stroke-width="0.8"/><line x1="504.80" y1="584.84" x2="504.80" y2="590.24" stroke="#444" stroke-width="0.8"/><line x1="502.46" y1="586.19" x2="507.14" y2="588.89" stroke="#444" stroke-width="0.8"/><line x1="507.14" y1="586.19" x2="502.46" y2="588.89" stroke="#444" stroke-width="0.8"/>
<text x="485.80" y="679.40" font-size="9.7" text-anchor="middle" textLength="26.2" lengthAdjust="spacingAndGlyphs" fill="#262626">Fixed</text>
<text x="517.80" y="679.40" font-size="9.7" text-anchor="middle" textLength="24" lengthAdjust="spacingAndGlyphs" fill="#262626">Sync</text>
<text transform="translate(451.50,620.85) rotate(-90)" font-size="11.3" text-anchor="middle" fill="#262626">Deviation angle</text>
</g>
<g id="it7">
<rect x="322.30" y="601.50" width="64.0" height="96.5" fill="#fff" stroke="none"/>
<text x="317.60" y="700.35" font-size="6.6" text-anchor="end" textLength="4.15" lengthAdjust="spacingAndGlyphs" fill="#3a3a3a">0</text>
<line x1="322.30" y1="687.84" x2="386.30" y2="687.84" stroke="#e0e0e0" stroke-width="0.9"/>
<text x="317.60" y="690.19" font-size="6.6" text-anchor="end" textLength="4.15" lengthAdjust="spacingAndGlyphs" fill="#3a3a3a">2</text>
<line x1="322.30" y1="677.67" x2="386.30" y2="677.67" stroke="#e0e0e0" stroke-width="0.9"/>
<text x="317.60" y="680.02" font-size="6.6" text-anchor="end" textLength="4.15" lengthAdjust="spacingAndGlyphs" fill="#3a3a3a">4</text>
<line x1="322.30" y1="667.51" x2="386.30" y2="667.51" stroke="#e0e0e0" stroke-width="0.9"/>
<text x="317.60" y="669.86" font-size="6.6" text-anchor="end" textLength="4.15" lengthAdjust="spacingAndGlyphs" fill="#3a3a3a">6</text>
<line x1="322.30" y1="657.35" x2="386.30" y2="657.35" stroke="#e0e0e0" stroke-width="0.9"/>
<text x="317.60" y="659.70" font-size="6.6" text-anchor="end" textLength="4.15" lengthAdjust="spacingAndGlyphs" fill="#3a3a3a">8</text>
<line x1="322.30" y1="647.19" x2="386.30" y2="647.19" stroke="#e0e0e0" stroke-width="0.9"/>
<text x="317.60" y="649.54" font-size="6.6" text-anchor="end" textLength="8.30" lengthAdjust="spacingAndGlyphs" fill="#3a3a3a">10</text>
<line x1="322.30" y1="637.02" x2="386.30" y2="637.02" stroke="#e0e0e0" stroke-width="0.9"/>
<text x="317.60" y="639.38" font-size="6.6" text-anchor="end" textLength="8.30" lengthAdjust="spacingAndGlyphs" fill="#3a3a3a">12</text>
<line x1="322.30" y1="626.86" x2="386.30" y2="626.86" stroke="#e0e0e0" stroke-width="0.9"/>
<text x="317.60" y="629.21" font-size="6.6" text-anchor="end" textLength="8.30" lengthAdjust="spacingAndGlyphs" fill="#3a3a3a">14</text>
<line x1="322.30" y1="616.70" x2="386.30" y2="616.70" stroke="#e0e0e0" stroke-width="0.9"/>
<text x="317.60" y="619.05" font-size="6.6" text-anchor="end" textLength="8.30" lengthAdjust="spacingAndGlyphs" fill="#3a3a3a">16</text>
<rect x="322.30" y="601.50" width="64.0" height="96.5" fill="none" stroke="#d8d8d8" stroke-width="1"/>
<line x1="338.30" y1="651.05" x2="338.30" y2="650.18" stroke="#3d3d3d" stroke-width="1"/>
<line x1="331.90" y1="651.05" x2="344.70" y2="651.05" stroke="#3d3d3d" stroke-width="1"/>
<rect x="325.50" y="644.57" width="25.60" height="5.61" fill="#3274a1" stroke="#3d3d3d" stroke-width="1"/>
<line x1="325.50" y1="649.30" x2="351.10" y2="649.30" stroke="#3d3d3d" stroke-width="1"/>
<path d="M338.30 630.16 L339.90 632.66 L338.30 635.16 L336.70 632.66Z" fill="#222"/><circle cx="338.30" cy="632.66" r="1.4" fill="#111"/>
<circle cx="338.30" cy="644.92" r="1.35" fill="#111"/>
<circle cx="338.30" cy="645.45" r="1.35" fill="#111"/>
<circle cx="338.30" cy="649.82" r="1.35" fill="#111"/>
<circle cx="338.30" cy="651.05" r="1.35" fill="#111"/>
<line x1="370.30" y1="678.38" x2="370.30" y2="686.96" stroke="#3d3d3d" stroke-width="1"/>
<line x1="363.90" y1="678.38" x2="376.70" y2="678.38" stroke="#3d3d3d" stroke-width="1"/>
<line x1="370.30" y1="695.55" x2="370.30" y2="693.62" stroke="#3d3d3d" stroke-width="1"/>
<line x1="363.90" y1="695.55" x2="376.70" y2="695.55" stroke="#3d3d3d" stroke-width="1"/>
<rect x="357.50" y="686.96" width="25.60" height="6.66" fill="#e1812c" stroke="#3d3d3d" stroke-width="1"/>
<line x1="357.50" y1="688.36" x2="383.10" y2="688.36" stroke="#3d3d3d" stroke-width="1"/>
<circle cx="370.30" cy="678.38" r="1.35" fill="#111"/>
<circle cx="370.30" cy="686.96" r="1.35" fill="#111"/>
<circle cx="370.30" cy="688.72" r="1.35" fill="#111"/>
<circle cx="370.30" cy="693.62" r="1.35" fill="#111"/>
<circle cx="370.30" cy="695.55" r="1.35" fill="#111"/>
<path d="M338.30 628.80 V626.18 H370.30 V628.80" fill="none" stroke="#888" stroke-width="1"/>
<line x1="351.30" y1="614.37" x2="351.30" y2="619.77" stroke="#444" stroke-width="0.8"/><line x1="348.96" y1="615.72" x2="353.64" y2="618.42" stroke="#444" stroke-width="0.8"/><line x1="353.64" y1="615.72" x2="348.96" y2="618.42" stroke="#444" stroke-width="0.8"/><line x1="357.30" y1="614.37" x2="357.30" y2="619.77" stroke="#444" stroke-width="0.8"/><line x1="354.96" y1="615.72" x2="359.64" y2="618.42" stroke="#444" stroke-width="0.8"/><line x1="359.64" y1="615.72" x2="354.96" y2="618.42" stroke="#444" stroke-width="0.8"/>
<text x="338.30" y="709.10" font-size="9.7" text-anchor="middle" textLength="26.2" lengthAdjust="spacingAndGlyphs" fill="#262626">Fixed</text>
<text x="370.30" y="709.10" font-size="9.7" text-anchor="middle" textLength="24" lengthAdjust="spacingAndGlyphs" fill="#262626">Sync</text>
<text transform="translate(304.00,650.55) rotate(-90)" font-size="11.3" text-anchor="middle" fill="#262626">Deviation angle</text>
</g>
<g id="it8">
<rect x="174.20" y="571.80" width="64.0" height="96.5" fill="#fff" stroke="none"/>
<text x="169.50" y="670.65" font-size="6.6" text-anchor="end" textLength="4.15" lengthAdjust="spacingAndGlyphs" fill="#3a3a3a">0</text>
<line x1="174.20" y1="658.14" x2="238.20" y2="658.14" stroke="#e0e0e0" stroke-width="0.9"/>
<text x="169.50" y="660.49" font-size="6.6" text-anchor="end" textLength="4.15" lengthAdjust="spacingAndGlyphs" fill="#3a3a3a">2</text>
<line x1="174.20" y1="647.97" x2="238.20" y2="647.97" stroke="#e0e0e0" stroke-width="0.9"/>
<text x="169.50" y="650.32" font-size="6.6" text-anchor="end" textLength="4.15" lengthAdjust="spacingAndGlyphs" fill="#3a3a3a">4</text>
<line x1="174.20" y1="637.81" x2="238.20" y2="637.81" stroke="#e0e0e0" stroke-width="0.9"/>
<text x="169.50" y="640.16" font-size="6.6" text-anchor="end" textLength="4.15" lengthAdjust="spacingAndGlyphs" fill="#3a3a3a">6</text>
<line x1="174.20" y1="627.65" x2="238.20" y2="627.65" stroke="#e0e0e0" stroke-width="0.9"/>
<text x="169.50" y="630.00" font-size="6.6" text-anchor="end" textLength="4.15" lengthAdjust="spacingAndGlyphs" fill="#3a3a3a">8</text>
<line x1="174.20" y1="617.49" x2="238.20" y2="617.49" stroke="#e0e0e0" stroke-width="0.9"/>
<text x="169.50" y="619.84" font-size="6.6" text-anchor="end" textLength="8.30" lengthAdjust="spacingAndGlyphs" fill="#3a3a3a">10</text>
<line x1="174.20" y1="607.32" x2="238.20" y2="607.32" stroke="#e0e0e0" stroke-width="0.9"/>
<text x="169.50" y="609.67" font-size="6.6" text-anchor="end" textLength="8.30" lengthAdjust="spacingAndGlyphs" fill="#3a3a3a">12</text>
<line x1="174.20" y1="597.16" x2="238.20" y2="597.16" stroke="#e0e0e0" stroke-width="0.9"/>
<text x="169.50" y="599.51" font-size="6.6" text-anchor="end" textLength="8.30" lengthAdjust="spacingAndGlyphs" fill="#3a3a3a">14</text>
<line x1="174.20" y1="587.00" x2="238.20" y2="587.00" stroke="#e0e0e0" stroke-width="0.9"/>
<text x="169.50" y="589.35" font-size="6.6" text-anchor="end" textLength="8.30" lengthAdjust="spacingAndGlyphs" fill="#3a3a3a">16</text>
<rect x="174.20" y="571.80" width="64.0" height="96.5" fill="none" stroke="#d8d8d8" stroke-width="1"/>
<line x1="190.20" y1="611.37" x2="190.20" y2="613.29" stroke="#3d3d3d" stroke-width="1"/>
<line x1="183.80" y1="611.37" x2="196.60" y2="611.37" stroke="#3d3d3d" stroke-width="1"/>
<rect x="177.40" y="613.29" width="25.60" height="5.26" fill="#3274a1" stroke="#3d3d3d" stroke-width="1"/>
<line x1="177.40" y1="616.10" x2="203.00" y2="616.10" stroke="#3d3d3d" stroke-width="1"/>
<path d="M190.20 625.33 L191.80 627.83 L190.20 630.33 L188.60 627.83Z" fill="#222"/><circle cx="190.20" cy="627.83" r="1.4" fill="#111"/>
<circle cx="190.20" cy="611.37" r="1.35" fill="#111"/>
<circle cx="190.20" cy="612.59" r="1.35" fill="#111"/>
<circle cx="190.20" cy="616.97" r="1.35" fill="#111"/>
<circle cx="190.20" cy="618.20" r="1.35" fill="#111"/>
<line x1="222.20" y1="648.15" x2="222.20" y2="650.43" stroke="#3d3d3d" stroke-width="1"/>
<line x1="215.80" y1="648.15" x2="228.60" y2="648.15" stroke="#3d3d3d" stroke-width="1"/>
<line x1="222.20" y1="659.89" x2="222.20" y2="657.61" stroke="#3d3d3d" stroke-width="1"/>
<line x1="215.80" y1="659.89" x2="228.60" y2="659.89" stroke="#3d3d3d" stroke-width="1"/>
<rect x="209.40" y="650.43" width="25.60" height="7.18" fill="#e1812c" stroke="#3d3d3d" stroke-width="1"/>
<line x1="209.40" y1="652.01" x2="235.00" y2="652.01" stroke="#3d3d3d" stroke-width="1"/>
<circle cx="222.20" cy="648.15" r="1.35" fill="#111"/>
<circle cx="222.20" cy="649.38" r="1.35" fill="#111"/>
<circle cx="222.20" cy="656.39" r="1.35" fill="#111"/>
<circle cx="222.20" cy="658.14" r="1.35" fill="#111"/>
<circle cx="222.20" cy="659.89" r="1.35" fill="#111"/>
<path d="M190.20 608.56 V605.23 H222.20 V608.56" fill="none" stroke="#333" stroke-width="1"/>
<line x1="203.20" y1="593.25" x2="203.20" y2="598.65" stroke="#444" stroke-width="0.8"/><line x1="200.86" y1="594.60" x2="205.54" y2="597.30" stroke="#444" stroke-width="0.8"/><line x1="205.54" y1="594.60" x2="200.86" y2="597.30" stroke="#444" stroke-width="0.8"/><line x1="209.20" y1="593.25" x2="209.20" y2="598.65" stroke="#444" stroke-width="0.8"/><line x1="206.86" y1="594.60" x2="211.54" y2="597.30" stroke="#444" stroke-width="0.8"/><line x1="211.54" y1="594.60" x2="206.86" y2="597.30" stroke="#444" stroke-width="0.8"/>
<text x="190.20" y="679.40" font-size="9.7" text-anchor="middle" textLength="26.2" lengthAdjust="spacingAndGlyphs" fill="#262626">Fixed</text>
<text x="222.20" y="679.40" font-size="9.7" text-anchor="middle" textLength="24" lengthAdjust="spacingAndGlyphs" fill="#262626">Sync</text>
<text transform="translate(155.90,620.85) rotate(-90)" font-size="11.3" text-anchor="middle" fill="#262626">Deviation angle</text>
</g>
<g id="it9">
<rect x="59.60" y="451.60" width="64.0" height="96.5" fill="#fff" stroke="none"/>
<text x="54.90" y="550.45" font-size="6.6" text-anchor="end" textLength="4.15" lengthAdjust="spacingAndGlyphs" fill="#3a3a3a">0</text>
<line x1="59.60" y1="537.94" x2="123.60" y2="537.94" stroke="#e0e0e0" stroke-width="0.9"/>
<text x="54.90" y="540.29" font-size="6.6" text-anchor="end" textLength="4.15" lengthAdjust="spacingAndGlyphs" fill="#3a3a3a">2</text>
<line x1="59.60" y1="527.77" x2="123.60" y2="527.77" stroke="#e0e0e0" stroke-width="0.9"/>
<text x="54.90" y="530.12" font-size="6.6" text-anchor="end" textLength="4.15" lengthAdjust="spacingAndGlyphs" fill="#3a3a3a">4</text>
<line x1="59.60" y1="517.61" x2="123.60" y2="517.61" stroke="#e0e0e0" stroke-width="0.9"/>
<text x="54.90" y="519.96" font-size="6.6" text-anchor="end" textLength="4.15" lengthAdjust="spacingAndGlyphs" fill="#3a3a3a">6</text>
<line x1="59.60" y1="507.45" x2="123.60" y2="507.45" stroke="#e0e0e0" stroke-width="0.9"/>
<text x="54.90" y="509.80" font-size="6.6" text-anchor="end" textLength="4.15" lengthAdjust="spacingAndGlyphs" fill="#3a3a3a">8</text>
<line x1="59.60" y1="497.29" x2="123.60" y2="497.29" stroke="#e0e0e0" stroke-width="0.9"/>
<text x="54.90" y="499.64" font-size="6.6" text-anchor="end" textLength="8.30" lengthAdjust="spacingAndGlyphs" fill="#3a3a3a">10</text>
<line x1="59.60" y1="487.12" x2="123.60" y2="487.12" stroke="#e0e0e0" stroke-width="0.9"/>
<text x="54.90" y="489.48" font-size="6.6" text-anchor="end" textLength="8.30" lengthAdjust="spacingAndGlyphs" fill="#3a3a3a">12</text>
<line x1="59.60" y1="476.96" x2="123.60" y2="476.96" stroke="#e0e0e0" stroke-width="0.9"/>
<text x="54.90" y="479.31" font-size="6.6" text-anchor="end" textLength="8.30" lengthAdjust="spacingAndGlyphs" fill="#3a3a3a">14</text>
<line x1="59.60" y1="466.80" x2="123.60" y2="466.80" stroke="#e0e0e0" stroke-width="0.9"/>
<text x="54.90" y="469.15" font-size="6.6" text-anchor="end" textLength="8.30" lengthAdjust="spacingAndGlyphs" fill="#3a3a3a">16</text>
<rect x="59.60" y="451.60" width="64.0" height="96.5" fill="none" stroke="#d8d8d8" stroke-width="1"/>
<line x1="75.60" y1="490.82" x2="75.60" y2="491.17" stroke="#3d3d3d" stroke-width="1"/>
<line x1="69.20" y1="490.82" x2="82.00" y2="490.82" stroke="#3d3d3d" stroke-width="1"/>
<line x1="75.60" y1="499.92" x2="75.60" y2="498.35" stroke="#3d3d3d" stroke-width="1"/>
<line x1="69.20" y1="499.92" x2="82.00" y2="499.92" stroke="#3d3d3d" stroke-width="1"/>
<rect x="62.80" y="491.17" width="25.60" height="7.18" fill="#3274a1" stroke="#3d3d3d" stroke-width="1"/>
<line x1="62.80" y1="495.19" x2="88.40" y2="495.19" stroke="#3d3d3d" stroke-width="1"/>
<path d="M75.60 472.55 L77.20 475.05 L75.60 477.55 L74.00 475.05Z" fill="#222"/><circle cx="75.60" cy="475.05" r="1.4" fill="#111"/>
<circle cx="75.60" cy="490.82" r="1.35" fill="#111"/>
<circle cx="75.60" cy="495.19" r="1.35" fill="#111"/>
<circle cx="75.60" cy="498.70" r="1.35" fill="#111"/>
<circle cx="75.60" cy="499.92" r="1.35" fill="#111"/>
<line x1="107.60" y1="537.76" x2="107.60" y2="538.11" stroke="#3d3d3d" stroke-width="1"/>
<line x1="101.20" y1="537.76" x2="114.00" y2="537.76" stroke="#3d3d3d" stroke-width="1"/>
<line x1="107.60" y1="540.57" x2="107.60" y2="540.22" stroke="#3d3d3d" stroke-width="1"/>
<line x1="101.20" y1="540.57" x2="114.00" y2="540.57" stroke="#3d3d3d" stroke-width="1"/>
<rect x="94.80" y="538.11" width="25.60" height="2.10" fill="#e1812c" stroke="#3d3d3d" stroke-width="1"/>
<line x1="94.80" y1="539.17" x2="120.40" y2="539.17" stroke="#3d3d3d" stroke-width="1"/>
<path d="M107.60 532.64 L109.20 535.14 L107.60 537.64 L106.00 535.14Z" fill="#222"/><circle cx="107.60" cy="535.14" r="1.4" fill="#111"/>
<circle cx="107.60" cy="538.11" r="1.35" fill="#111"/>
<circle cx="107.60" cy="538.99" r="1.35" fill="#111"/>
<circle cx="107.60" cy="539.87" r="1.35" fill="#111"/>
<circle cx="107.60" cy="540.57" r="1.35" fill="#111"/>
<path d="M75.60 471.19 V468.04 H107.60 V471.19" fill="none" stroke="#333" stroke-width="1"/>
<line x1="88.60" y1="455.71" x2="88.60" y2="461.11" stroke="#444" stroke-width="0.8"/><line x1="86.26" y1="457.06" x2="90.94" y2="459.76" stroke="#444" stroke-width="0.8"/><line x1="90.94" y1="457.06" x2="86.26" y2="459.76" stroke="#444" stroke-width="0.8"/><line x1="94.60" y1="455.71" x2="94.60" y2="461.11" stroke="#444" stroke-width="0.8"/><line x1="92.26" y1="457.06" x2="96.94" y2="459.76" stroke="#444" stroke-width="0.8"/><line x1="96.94" y1="457.06" x2="92.26" y2="459.76" stroke="#444" stroke-width="0.8"/>
<text x="75.60" y="559.20" font-size="9.7" text-anchor="middle" textLength="26.2" lengthAdjust="spacingAndGlyphs" fill="#262626">Fixed</text>
<text x="107.60" y="559.20" font-size="9.7" text-anchor="middle" textLength="24" lengthAdjust="spacingAndGlyphs" fill="#262626">Sync</text>
<text transform="translate(41.30,500.65) rotate(-90)" font-size="11.3" text-anchor="middle" fill="#262626">Deviation angle</text>
</g>
<g id="it10">
<rect x="26.30" y="303.90" width="64.0" height="96.5" fill="#fff" stroke="none"/>
<text x="21.60" y="402.75" font-size="6.6" text-anchor="end" textLength="4.15" lengthAdjust="spacingAndGlyphs" fill="#3a3a3a">0</text>
<line x1="26.30" y1="390.24" x2="90.30" y2="390.24" stroke="#e0e0e0" stroke-width="0.9"/>
<text x="21.60" y="392.59" font-size="6.6" text-anchor="end" textLength="4.15" lengthAdjust="spacingAndGlyphs" fill="#3a3a3a">2</text>
<line x1="26.30" y1="380.07" x2="90.30" y2="380.07" stroke="#e0e0e0" stroke-width="0.9"/>
<text x="21.60" y="382.43" font-size="6.6" text-anchor="end" textLength="4.15" lengthAdjust="spacingAndGlyphs" fill="#3a3a3a">4</text>
<line x1="26.30" y1="369.91" x2="90.30" y2="369.91" stroke="#e0e0e0" stroke-width="0.9"/>
<text x="21.60" y="372.26" font-size="6.6" text-anchor="end" textLength="4.15" lengthAdjust="spacingAndGlyphs" fill="#3a3a3a">6</text>
<line x1="26.30" y1="359.75" x2="90.30" y2="359.75" stroke="#e0e0e0" stroke-width="0.9"/>
<text x="21.60" y="362.10" font-size="6.6" text-anchor="end" textLength="4.15" lengthAdjust="spacingAndGlyphs" fill="#3a3a3a">8</text>
<line x1="26.30" y1="349.59" x2="90.30" y2="349.59" stroke="#e0e0e0" stroke-width="0.9"/>
<text x="21.60" y="351.94" font-size="6.6" text-anchor="end" textLength="8.30" lengthAdjust="spacingAndGlyphs" fill="#3a3a3a">10</text>
<line x1="26.30" y1="339.42" x2="90.30" y2="339.42" stroke="#e0e0e0" stroke-width="0.9"/>
<text x="21.60" y="341.77" font-size="6.6" text-anchor="end" textLength="8.30" lengthAdjust="spacingAndGlyphs" fill="#3a3a3a">12</text>
<line x1="26.30" y1="329.26" x2="90.30" y2="329.26" stroke="#e0e0e0" stroke-width="0.9"/>
<text x="21.60" y="331.61" font-size="6.6" text-anchor="end" textLength="8.30" lengthAdjust="spacingAndGlyphs" fill="#3a3a3a">14</text>
<line x1="26.30" y1="319.10" x2="90.30" y2="319.10" stroke="#e0e0e0" stroke-width="0.9"/>
<text x="21.60" y="321.45" font-size="6.6" text-anchor="end" textLength="8.30" lengthAdjust="spacingAndGlyphs" fill="#3a3a3a">16</text>
<rect x="26.30" y="303.90" width="64.0" height="96.5" fill="none" stroke="#d8d8d8" stroke-width="1"/>
<line x1="42.30" y1="348.72" x2="42.30" y2="349.07" stroke="#3d3d3d" stroke-width="1"/>
<line x1="35.90" y1="348.72" x2="48.70" y2="348.72" stroke="#3d3d3d" stroke-width="1"/>
<line x1="42.30" y1="352.22" x2="42.30" y2="351.70" stroke="#3d3d3d" stroke-width="1"/>
<line x1="35.90" y1="352.22" x2="48.70" y2="352.22" stroke="#3d3d3d" stroke-width="1"/>
<rect x="29.50" y="349.07" width="25.60" height="2.63" fill="#3274a1" stroke="#3d3d3d" stroke-width="1"/>
<line x1="29.50" y1="350.47" x2="55.10" y2="350.47" stroke="#3d3d3d" stroke-width="1"/>
<path d="M42.30 342.72 L43.90 345.22 L42.30 347.72 L40.70 345.22Z" fill="#222"/><circle cx="42.30" cy="345.22" r="1.4" fill="#111"/>
<circle cx="42.30" cy="349.25" r="1.35" fill="#111"/>
<circle cx="42.30" cy="350.47" r="1.35" fill="#111"/>
<circle cx="42.30" cy="351.35" r="1.35" fill="#111"/>
<circle cx="42.30" cy="352.22" r="1.35" fill="#111"/>
<line x1="74.30" y1="373.77" x2="74.30" y2="374.30" stroke="#3d3d3d" stroke-width="1"/>
<line x1="67.90" y1="373.77" x2="80.70" y2="373.77" stroke="#3d3d3d" stroke-width="1"/>
<line x1="74.30" y1="399.35" x2="74.30" y2="387.79" stroke="#3d3d3d" stroke-width="1"/>
<line x1="67.90" y1="399.35" x2="80.70" y2="399.35" stroke="#3d3d3d" stroke-width="1"/>
<rect x="61.50" y="374.30" width="25.60" height="13.49" fill="#e1812c" stroke="#3d3d3d" stroke-width="1"/>
<line x1="61.50" y1="376.22" x2="87.10" y2="376.22" stroke="#3d3d3d" stroke-width="1"/>
<circle cx="74.30" cy="373.77" r="1.35" fill="#111"/>
<circle cx="74.30" cy="374.65" r="1.35" fill="#111"/>
<circle cx="74.30" cy="377.10" r="1.35" fill="#111"/>
<circle cx="74.30" cy="387.79" r="1.35" fill="#111"/>
<circle cx="74.30" cy="399.35" r="1.35" fill="#111"/>
<path d="M42.30 341.36 V338.21 H74.30 V341.36" fill="none" stroke="#111" stroke-width="1.35"/>
<line x1="55.30" y1="327.28" x2="55.30" y2="332.68" stroke="#444" stroke-width="0.8"/><line x1="52.96" y1="328.63" x2="57.64" y2="331.33" stroke="#444" stroke-width="0.8"/><line x1="57.64" y1="328.63" x2="52.96" y2="331.33" stroke="#444" stroke-width="0.8"/><line x1="61.30" y1="327.28" x2="61.30" y2="332.68" stroke="#444" stroke-width="0.8"/><line x1="58.96" y1="328.63" x2="63.64" y2="331.33" stroke="#444" stroke-width="0.8"/><line x1="63.64" y1="328.63" x2="58.96" y2="331.33" stroke="#444" stroke-width="0.8"/>
<text x="42.30" y="411.50" font-size="9.7" text-anchor="middle" textLength="26.2" lengthAdjust="spacingAndGlyphs" fill="#262626">Fixed</text>
<text x="74.30" y="411.50" font-size="9.7" text-anchor="middle" textLength="24" lengthAdjust="spacingAndGlyphs" fill="#262626">Sync</text>
<text transform="translate(8.00,352.95) rotate(-90)" font-size="11.3" text-anchor="middle" fill="#262626">Deviation angle</text>
</g>
<g id="it11">
<rect x="59.60" y="156.50" width="64.0" height="96.5" fill="#fff" stroke="none"/>
<text x="54.90" y="255.35" font-size="6.6" text-anchor="end" textLength="4.15" lengthAdjust="spacingAndGlyphs" fill="#3a3a3a">0</text>
<line x1="59.60" y1="242.84" x2="123.60" y2="242.84" stroke="#e0e0e0" stroke-width="0.9"/>
<text x="54.90" y="245.19" font-size="6.6" text-anchor="end" textLength="4.15" lengthAdjust="spacingAndGlyphs" fill="#3a3a3a">2</text>
<line x1="59.60" y1="232.68" x2="123.60" y2="232.68" stroke="#e0e0e0" stroke-width="0.9"/>
<text x="54.90" y="235.03" font-size="6.6" text-anchor="end" textLength="4.15" lengthAdjust="spacingAndGlyphs" fill="#3a3a3a">4</text>
<line x1="59.60" y1="222.51" x2="123.60" y2="222.51" stroke="#e0e0e0" stroke-width="0.9"/>
<text x="54.90" y="224.86" font-size="6.6" text-anchor="end" textLength="4.15" lengthAdjust="spacingAndGlyphs" fill="#3a3a3a">6</text>
<line x1="59.60" y1="212.35" x2="123.60" y2="212.35" stroke="#e0e0e0" stroke-width="0.9"/>
<text x="54.90" y="214.70" font-size="6.6" text-anchor="end" textLength="4.15" lengthAdjust="spacingAndGlyphs" fill="#3a3a3a">8</text>
<line x1="59.60" y1="202.19" x2="123.60" y2="202.19" stroke="#e0e0e0" stroke-width="0.9"/>
<text x="54.90" y="204.54" font-size="6.6" text-anchor="end" textLength="8.30" lengthAdjust="spacingAndGlyphs" fill="#3a3a3a">10</text>
<line x1="59.60" y1="192.03" x2="123.60" y2="192.03" stroke="#e0e0e0" stroke-width="0.9"/>
<text x="54.90" y="194.38" font-size="6.6" text-anchor="end" textLength="8.30" lengthAdjust="spacingAndGlyphs" fill="#3a3a3a">12</text>
<line x1="59.60" y1="181.86" x2="123.60" y2="181.86" stroke="#e0e0e0" stroke-width="0.9"/>
<text x="54.90" y="184.21" font-size="6.6" text-anchor="end" textLength="8.30" lengthAdjust="spacingAndGlyphs" fill="#3a3a3a">14</text>
<line x1="59.60" y1="171.70" x2="123.60" y2="171.70" stroke="#e0e0e0" stroke-width="0.9"/>
<text x="54.90" y="174.05" font-size="6.6" text-anchor="end" textLength="8.30" lengthAdjust="spacingAndGlyphs" fill="#3a3a3a">16</text>
<rect x="59.60" y="156.50" width="64.0" height="96.5" fill="none" stroke="#d8d8d8" stroke-width="1"/>
<line x1="75.60" y1="188.88" x2="75.60" y2="194.84" stroke="#3d3d3d" stroke-width="1"/>
<line x1="69.20" y1="188.88" x2="82.00" y2="188.88" stroke="#3d3d3d" stroke-width="1"/>
<line x1="75.60" y1="204.47" x2="75.60" y2="203.42" stroke="#3d3d3d" stroke-width="1"/>
<line x1="69.20" y1="204.47" x2="82.00" y2="204.47" stroke="#3d3d3d" stroke-width="1"/>
<rect x="62.80" y="194.84" width="25.60" height="8.58" fill="#3274a1" stroke="#3d3d3d" stroke-width="1"/>
<line x1="62.80" y1="199.57" x2="88.40" y2="199.57" stroke="#3d3d3d" stroke-width="1"/>
<circle cx="75.60" cy="188.88" r="1.35" fill="#111"/>
<circle cx="75.60" cy="194.84" r="1.35" fill="#111"/>
<circle cx="75.60" cy="199.57" r="1.35" fill="#111"/>
<circle cx="75.60" cy="203.42" r="1.35" fill="#111"/>
<circle cx="75.60" cy="204.47" r="1.35" fill="#111"/>
<line x1="107.60" y1="231.10" x2="107.60" y2="235.48" stroke="#3d3d3d" stroke-width="1"/>
<line x1="101.20" y1="231.10" x2="114.00" y2="231.10" stroke="#3d3d3d" stroke-width="1"/>
<line x1="107.60" y1="247.22" x2="107.60" y2="240.74" stroke="#3d3d3d" stroke-width="1"/>
<line x1="101.20" y1="247.22" x2="114.00" y2="247.22" stroke="#3d3d3d" stroke-width="1"/>
<rect x="94.80" y="235.48" width="25.60" height="5.26" fill="#e1812c" stroke="#3d3d3d" stroke-width="1"/>
<line x1="94.80" y1="240.21" x2="120.40" y2="240.21" stroke="#3d3d3d" stroke-width="1"/>
<circle cx="107.60" cy="231.10" r="1.35" fill="#111"/>
<circle cx="107.60" cy="235.48" r="1.35" fill="#111"/>
<circle cx="107.60" cy="240.21" r="1.35" fill="#111"/>
<circle cx="107.60" cy="240.74" r="1.35" fill="#111"/>
<circle cx="107.60" cy="247.22" r="1.35" fill="#111"/>
<path d="M75.60 185.55 V182.23 H107.60 V185.55" fill="none" stroke="#333" stroke-width="1"/>
<line x1="88.60" y1="170.59" x2="88.60" y2="175.99" stroke="#444" stroke-width="0.8"/><line x1="86.26" y1="171.94" x2="90.94" y2="174.64" stroke="#444" stroke-width="0.8"/><line x1="90.94" y1="171.94" x2="86.26" y2="174.64" stroke="#444" stroke-width="0.8"/><line x1="94.60" y1="170.59" x2="94.60" y2="175.99" stroke="#444" stroke-width="0.8"/><line x1="92.26" y1="171.94" x2="96.94" y2="174.64" stroke="#444" stroke-width="0.8"/><line x1="96.94" y1="171.94" x2="92.26" y2="174.64" stroke="#444" stroke-width="0.8"/>
<text x="75.60" y="264.10" font-size="9.7" text-anchor="middle" textLength="26.2" lengthAdjust="spacingAndGlyphs" fill="#262626">Fixed</text>
<text x="107.60" y="264.10" font-size="9.7" text-anchor="middle" textLength="24" lengthAdjust="spacingAndGlyphs" fill="#262626">Sync</text>
<text transform="translate(41.30,205.55) rotate(-90)" font-size="11.3" text-anchor="middle" fill="#262626">Deviation angle</text>
</g>
<g id="ib0">
<rect x="174.20" y="836.90" width="64.0" height="96.5" fill="#fff" stroke="none"/>
<text x="169.50" y="935.75" font-size="6.6" text-anchor="end" textLength="4.15" lengthAdjust="spacingAndGlyphs" fill="#3a3a3a">0</text>
<line x1="174.20" y1="918.40" x2="238.20" y2="918.40" stroke="#e0e0e0" stroke-width="0.9"/>
<text x="169.50" y="920.75" font-size="6.6" text-anchor="end" textLength="4.15" lengthAdjust="spacingAndGlyphs" fill="#3a3a3a">5</text>
<line x1="174.20" y1="903.41" x2="238.20" y2="903.41" stroke="#e0e0e0" stroke-width="0.9"/>
<text x="169.50" y="905.76" font-size="6.6" text-anchor="end" textLength="8.30" lengthAdjust="spacingAndGlyphs" fill="#3a3a3a">10</text>
<line x1="174.20" y1="888.41" x2="238.20" y2="888.41" stroke="#e0e0e0" stroke-width="0.9"/>
<text x="169.50" y="890.76" font-size="6.6" text-anchor="end" textLength="8.30" lengthAdjust="spacingAndGlyphs" fill="#3a3a3a">15</text>
<line x1="174.20" y1="873.42" x2="238.20" y2="873.42" stroke="#e0e0e0" stroke-width="0.9"/>
<text x="169.50" y="875.77" font-size="6.6" text-anchor="end" textLength="8.30" lengthAdjust="spacingAndGlyphs" fill="#3a3a3a">20</text>
<line x1="174.20" y1="858.42" x2="238.20" y2="858.42" stroke="#e0e0e0" stroke-width="0.9"/>
<text x="169.50" y="860.77" font-size="6.6" text-anchor="end" textLength="8.30" lengthAdjust="spacingAndGlyphs" fill="#3a3a3a">25</text>
<rect x="174.20" y="836.90" width="64.0" height="96.5" fill="none" stroke="#d8d8d8" stroke-width="1"/>
<line x1="190.20" y1="903.79" x2="190.20" y2="903.09" stroke="#3d3d3d" stroke-width="1"/>
<line x1="183.80" y1="903.79" x2="196.60" y2="903.79" stroke="#3d3d3d" stroke-width="1"/>
<rect x="177.40" y="886.28" width="25.60" height="16.82" fill="#3274a1" stroke="#3d3d3d" stroke-width="1"/>
<line x1="177.40" y1="894.51" x2="203.00" y2="894.51" stroke="#3d3d3d" stroke-width="1"/>
<path d="M190.20 855.92 L191.80 858.42 L190.20 860.92 L188.60 858.42Z" fill="#222"/><circle cx="190.20" cy="858.42" r="1.4" fill="#111"/>
<circle cx="190.20" cy="886.28" r="1.35" fill="#111"/>
<circle cx="190.20" cy="894.51" r="1.35" fill="#111"/>
<circle cx="190.20" cy="902.74" r="1.35" fill="#111"/>
<circle cx="190.20" cy="903.79" r="1.35" fill="#111"/>
<line x1="222.20" y1="905.90" x2="222.20" y2="909.40" stroke="#3d3d3d" stroke-width="1"/>
<line x1="215.80" y1="905.90" x2="228.60" y2="905.90" stroke="#3d3d3d" stroke-width="1"/>
<line x1="222.20" y1="927.44" x2="222.20" y2="917.63" stroke="#3d3d3d" stroke-width="1"/>
<line x1="215.80" y1="927.44" x2="228.60" y2="927.44" stroke="#3d3d3d" stroke-width="1"/>
<rect x="209.40" y="909.40" width="25.60" height="8.23" fill="#e1812c" stroke="#3d3d3d" stroke-width="1"/>
<line x1="209.40" y1="914.83" x2="235.00" y2="914.83" stroke="#3d3d3d" stroke-width="1"/>
<circle cx="222.20" cy="905.90" r="1.35" fill="#111"/>
<circle cx="222.20" cy="909.75" r="1.35" fill="#111"/>
<circle cx="222.20" cy="914.83" r="1.35" fill="#111"/>
<circle cx="222.20" cy="917.63" r="1.35" fill="#111"/>
<circle cx="222.20" cy="927.44" r="1.35" fill="#111"/>
<path d="M190.20 854.57 V851.59 H222.20 V854.57" fill="none" stroke="#555" stroke-width="1"/>
<line x1="203.20" y1="839.96" x2="203.20" y2="845.36" stroke="#444" stroke-width="0.8"/><line x1="200.86" y1="841.31" x2="205.54" y2="844.01" stroke="#444" stroke-width="0.8"/><line x1="205.54" y1="841.31" x2="200.86" y2="844.01" stroke="#444" stroke-width="0.8"/><line x1="209.20" y1="839.96" x2="209.20" y2="845.36" stroke="#444" stroke-width="0.8"/><line x1="206.86" y1="841.31" x2="211.54" y2="844.01" stroke="#444" stroke-width="0.8"/><line x1="211.54" y1="841.31" x2="206.86" y2="844.01" stroke="#444" stroke-width="0.8"/>
<text x="190.20" y="944.50" font-size="9.7" text-anchor="middle" textLength="26.2" lengthAdjust="spacingAndGlyphs" fill="#262626">Fixed</text>
<text x="222.20" y="944.50" font-size="9.7" text-anchor="middle" textLength="24" lengthAdjust="spacingAndGlyphs" fill="#262626">Sync</text>
<text transform="translate(155.90,885.95) rotate(-90)" font-size="11.3" text-anchor="middle" fill="#262626">Deviation angle</text>
</g>
<g id="ib1">
<rect x="322.30" y="803.00" width="64.0" height="96.5" fill="#fff" stroke="none"/>
<text x="317.60" y="901.85" font-size="6.6" text-anchor="end" textLength="4.15" lengthAdjust="spacingAndGlyphs" fill="#3a3a3a">0</text>
<line x1="322.30" y1="884.50" x2="386.30" y2="884.50" stroke="#e0e0e0" stroke-width="0.9"/>
<text x="317.60" y="886.85" font-size="6.6" text-anchor="end" textLength="4.15" lengthAdjust="spacingAndGlyphs" fill="#3a3a3a">5</text>
<line x1="322.30" y1="869.51" x2="386.30" y2="869.51" stroke="#e0e0e0" stroke-width="0.9"/>
<text x="317.60" y="871.86" font-size="6.6" text-anchor="end" textLength="8.30" lengthAdjust="spacingAndGlyphs" fill="#3a3a3a">10</text>
<line x1="322.30" y1="854.51" x2="386.30" y2="854.51" stroke="#e0e0e0" stroke-width="0.9"/>
<text x="317.60" y="856.86" font-size="6.6" text-anchor="end" textLength="8.30" lengthAdjust="spacingAndGlyphs" fill="#3a3a3a">15</text>
<line x1="322.30" y1="839.52" x2="386.30" y2="839.52" stroke="#e0e0e0" stroke-width="0.9"/>
<text x="317.60" y="841.87" font-size="6.6" text-anchor="end" textLength="8.30" lengthAdjust="spacingAndGlyphs" fill="#3a3a3a">20</text>
<line x1="322.30" y1="824.52" x2="386.30" y2="824.52" stroke="#e0e0e0" stroke-width="0.9"/>
<text x="317.60" y="826.87" font-size="6.6" text-anchor="end" textLength="8.30" lengthAdjust="spacingAndGlyphs" fill="#3a3a3a">25</text>
<rect x="322.30" y="803.00" width="64.0" height="96.5" fill="none" stroke="#d8d8d8" stroke-width="1"/>
<line x1="338.30" y1="841.34" x2="338.30" y2="854.30" stroke="#3d3d3d" stroke-width="1"/>
<line x1="331.90" y1="841.34" x2="344.70" y2="841.34" stroke="#3d3d3d" stroke-width="1"/>
<line x1="338.30" y1="877.60" x2="338.30" y2="873.40" stroke="#3d3d3d" stroke-width="1"/>
<line x1="331.90" y1="877.60" x2="344.70" y2="877.60" stroke="#3d3d3d" stroke-width="1"/>
<rect x="325.50" y="854.30" width="25.60" height="19.09" fill="#3274a1" stroke="#3d3d3d" stroke-width="1"/>
<line x1="325.50" y1="867.09" x2="351.10" y2="867.09" stroke="#3d3d3d" stroke-width="1"/>
<circle cx="338.30" cy="841.34" r="1.35" fill="#111"/>
<circle cx="338.30" cy="854.30" r="1.35" fill="#111"/>
<circle cx="338.30" cy="867.09" r="1.35" fill="#111"/>
<circle cx="338.30" cy="873.05" r="1.35" fill="#111"/>
<circle cx="338.30" cy="877.60" r="1.35" fill="#111"/>
<line x1="370.30" y1="860.43" x2="370.30" y2="861.31" stroke="#3d3d3d" stroke-width="1"/>
<line x1="363.90" y1="860.43" x2="376.70" y2="860.43" stroke="#3d3d3d" stroke-width="1"/>
<line x1="370.30" y1="891.97" x2="370.30" y2="891.27" stroke="#3d3d3d" stroke-width="1"/>
<line x1="363.90" y1="891.97" x2="376.70" y2="891.97" stroke="#3d3d3d" stroke-width="1"/>
<rect x="357.50" y="861.31" width="25.60" height="29.96" fill="#e1812c" stroke="#3d3d3d" stroke-width="1"/>
<line x1="357.50" y1="877.25" x2="383.10" y2="877.25" stroke="#3d3d3d" stroke-width="1"/>
<circle cx="370.30" cy="860.43" r="1.35" fill="#111"/>
<circle cx="370.30" cy="861.31" r="1.35" fill="#111"/>
<circle cx="370.30" cy="877.25" r="1.35" fill="#111"/>
<circle cx="370.30" cy="891.27" r="1.35" fill="#111"/>
<circle cx="370.30" cy="891.97" r="1.35" fill="#111"/>
<path d="M338.30 838.54 V835.56 H370.30 V838.54" fill="none" stroke="#333" stroke-width="1"/>
<text x="354.30" y="832.93" font-size="13.5" text-anchor="middle" textLength="24.5" lengthAdjust="spacingAndGlyphs" fill="#262626">n. s.</text>
<text x="338.30" y="910.60" font-size="9.7" text-anchor="middle" textLength="26.2" lengthAdjust="spacingAndGlyphs" fill="#262626">Fixed</text>
<text x="370.30" y="910.60" font-size="9.7" text-anchor="middle" textLength="24" lengthAdjust="spacingAndGlyphs" fill="#262626">Sync</text>
<text transform="translate(304.00,852.05) rotate(-90)" font-size="11.3" text-anchor="middle" fill="#262626">Deviation angle</text>
</g>
<g id="ib2">
<rect x="469.80" y="836.90" width="64.0" height="96.5" fill="#fff" stroke="none"/>
<text x="465.10" y="935.75" font-size="6.6" text-anchor="end" textLength="4.15" lengthAdjust="spacingAndGlyphs" fill="#3a3a3a">0</text>
<line x1="469.80" y1="918.40" x2="533.80" y2="918.40" stroke="#e0e0e0" stroke-width="0.9"/>
<text x="465.10" y="920.75" font-size="6.6" text-anchor="end" textLength="4.15" lengthAdjust="spacingAndGlyphs" fill="#3a3a3a">5</text>
<line x1="469.80" y1="903.41" x2="533.80" y2="903.41" stroke="#e0e0e0" stroke-width="0.9"/>
<text x="465.10" y="905.76" font-size="6.6" text-anchor="end" textLength="8.30" lengthAdjust="spacingAndGlyphs" fill="#3a3a3a">10</text>
<line x1="469.80" y1="888.41" x2="533.80" y2="888.41" stroke="#e0e0e0" stroke-width="0.9"/>
<text x="465.10" y="890.76" font-size="6.6" text-anchor="end" textLength="8.30" lengthAdjust="spacingAndGlyphs" fill="#3a3a3a">15</text>
<line x1="469.80" y1="873.42" x2="533.80" y2="873.42" stroke="#e0e0e0" stroke-width="0.9"/>
<text x="465.10" y="875.77" font-size="6.6" text-anchor="end" textLength="8.30" lengthAdjust="spacingAndGlyphs" fill="#3a3a3a">20</text>
<line x1="469.80" y1="858.42" x2="533.80" y2="858.42" stroke="#e0e0e0" stroke-width="0.9"/>
<text x="465.10" y="860.77" font-size="6.6" text-anchor="end" textLength="8.30" lengthAdjust="spacingAndGlyphs" fill="#3a3a3a">25</text>
<rect x="469.80" y="836.90" width="64.0" height="96.5" fill="none" stroke="#d8d8d8" stroke-width="1"/>
<line x1="485.80" y1="863.50" x2="485.80" y2="868.58" stroke="#3d3d3d" stroke-width="1"/>
<line x1="479.40" y1="863.50" x2="492.20" y2="863.50" stroke="#3d3d3d" stroke-width="1"/>
<line x1="485.80" y1="904.14" x2="485.80" y2="903.62" stroke="#3d3d3d" stroke-width="1"/>
<line x1="479.40" y1="904.14" x2="492.20" y2="904.14" stroke="#3d3d3d" stroke-width="1"/>
<rect x="473.00" y="868.58" width="25.60" height="35.04" fill="#3274a1" stroke="#3d3d3d" stroke-width="1"/>
<line x1="473.00" y1="887.50" x2="498.60" y2="887.50" stroke="#3d3d3d" stroke-width="1"/>
<circle cx="485.80" cy="863.50" r="1.35" fill="#111"/>
<circle cx="485.80" cy="868.93" r="1.35" fill="#111"/>
<circle cx="485.80" cy="887.50" r="1.35" fill="#111"/>
<circle cx="485.80" cy="903.62" r="1.35" fill="#111"/>
<circle cx="485.80" cy="904.14" r="1.35" fill="#111"/>
<line x1="517.80" y1="910.98" x2="517.80" y2="914.31" stroke="#3d3d3d" stroke-width="1"/>
<line x1="511.40" y1="910.98" x2="524.20" y2="910.98" stroke="#3d3d3d" stroke-width="1"/>
<line x1="517.80" y1="930.25" x2="517.80" y2="926.74" stroke="#3d3d3d" stroke-width="1"/>
<line x1="511.40" y1="930.25" x2="524.20" y2="930.25" stroke="#3d3d3d" stroke-width="1"/>
<rect x="505.00" y="914.31" width="25.60" height="12.44" fill="#e1812c" stroke="#3d3d3d" stroke-width="1"/>
<line x1="505.00" y1="916.41" x2="530.60" y2="916.41" stroke="#3d3d3d" stroke-width="1"/>
<circle cx="517.80" cy="910.98" r="1.35" fill="#111"/>
<circle cx="517.80" cy="914.31" r="1.35" fill="#111"/>
<circle cx="517.80" cy="916.41" r="1.35" fill="#111"/>
<circle cx="517.80" cy="926.39" r="1.35" fill="#111"/>
<circle cx="517.80" cy="930.25" r="1.35" fill="#111"/>
<path d="M485.80 859.47 V856.32 H517.80 V859.47" fill="none" stroke="#333" stroke-width="1"/>
<line x1="498.80" y1="844.86" x2="498.80" y2="850.26" stroke="#444" stroke-width="0.8"/><line x1="496.46" y1="846.21" x2="501.14" y2="848.91" stroke="#444" stroke-width="0.8"/><line x1="501.14" y1="846.21" x2="496.46" y2="848.91" stroke="#444" stroke-width="0.8"/><line x1="504.80" y1="844.86" x2="504.80" y2="850.26" stroke="#444" stroke-width="0.8"/><line x1="502.46" y1="846.21" x2="507.14" y2="848.91" stroke="#444" stroke-width="0.8"/><line x1="507.14" y1="846.21" x2="502.46" y2="848.91" stroke="#444" stroke-width="0.8"/>
<text x="485.80" y="944.50" font-size="9.7" text-anchor="middle" textLength="26.2" lengthAdjust="spacingAndGlyphs" fill="#262626">Fixed</text>
<text x="517.80" y="944.50" font-size="9.7" text-anchor="middle" textLength="24" lengthAdjust="spacingAndGlyphs" fill="#262626">Sync</text>
<text transform="translate(451.50,885.95) rotate(-90)" font-size="11.3" text-anchor="middle" fill="#262626">Deviation angle</text>
</g>
<g id="ib3">
<rect x="598.20" y="959.10" width="64.0" height="96.5" fill="#fff" stroke="none"/>
<text x="593.50" y="1057.95" font-size="6.6" text-anchor="end" textLength="4.15" lengthAdjust="spacingAndGlyphs" fill="#3a3a3a">0</text>
<line x1="598.20" y1="1040.60" x2="662.20" y2="1040.60" stroke="#e0e0e0" stroke-width="0.9"/>
<text x="593.50" y="1042.95" font-size="6.6" text-anchor="end" textLength="4.15" lengthAdjust="spacingAndGlyphs" fill="#3a3a3a">5</text>
<line x1="598.20" y1="1025.61" x2="662.20" y2="1025.61" stroke="#e0e0e0" stroke-width="0.9"/>
<text x="593.50" y="1027.96" font-size="6.6" text-anchor="end" textLength="8.30" lengthAdjust="spacingAndGlyphs" fill="#3a3a3a">10</text>
<line x1="598.20" y1="1010.61" x2="662.20" y2="1010.61" stroke="#e0e0e0" stroke-width="0.9"/>
<text x="593.50" y="1012.96" font-size="6.6" text-anchor="end" textLength="8.30" lengthAdjust="spacingAndGlyphs" fill="#3a3a3a">15</text>
<line x1="598.20" y1="995.62" x2="662.20" y2="995.62" stroke="#e0e0e0" stroke-width="0.9"/>
<text x="593.50" y="997.97" font-size="6.6" text-anchor="end" textLength="8.30" lengthAdjust="spacingAndGlyphs" fill="#3a3a3a">20</text>
<line x1="598.20" y1="980.62" x2="662.20" y2="980.62" stroke="#e0e0e0" stroke-width="0.9"/>
<text x="593.50" y="982.97" font-size="6.6" text-anchor="end" textLength="8.30" lengthAdjust="spacingAndGlyphs" fill="#3a3a3a">25</text>
<rect x="598.20" y="959.10" width="64.0" height="96.5" fill="none" stroke="#d8d8d8" stroke-width="1"/>
<line x1="614.20" y1="1003.40" x2="614.20" y2="1010.05" stroke="#3d3d3d" stroke-width="1"/>
<line x1="607.80" y1="1003.40" x2="620.60" y2="1003.40" stroke="#3d3d3d" stroke-width="1"/>
<line x1="614.20" y1="1018.46" x2="614.20" y2="1015.66" stroke="#3d3d3d" stroke-width="1"/>
<line x1="607.80" y1="1018.46" x2="620.60" y2="1018.46" stroke="#3d3d3d" stroke-width="1"/>
<rect x="601.40" y="1010.05" width="25.60" height="5.61" fill="#3274a1" stroke="#3d3d3d" stroke-width="1"/>
<line x1="601.40" y1="1013.91" x2="627.00" y2="1013.91" stroke="#3d3d3d" stroke-width="1"/>
<circle cx="614.20" cy="1003.40" r="1.35" fill="#111"/>
<circle cx="614.20" cy="1010.05" r="1.35" fill="#111"/>
<circle cx="614.20" cy="1013.56" r="1.35" fill="#111"/>
<circle cx="614.20" cy="1014.78" r="1.35" fill="#111"/>
<circle cx="614.20" cy="1018.46" r="1.35" fill="#111"/>
<line x1="646.20" y1="1045.96" x2="646.20" y2="1046.32" stroke="#3d3d3d" stroke-width="1"/>
<line x1="639.80" y1="1045.96" x2="652.60" y2="1045.96" stroke="#3d3d3d" stroke-width="1"/>
<line x1="646.20" y1="1049.12" x2="646.20" y2="1048.42" stroke="#3d3d3d" stroke-width="1"/>
<line x1="639.80" y1="1049.12" x2="652.60" y2="1049.12" stroke="#3d3d3d" stroke-width="1"/>
<rect x="633.40" y="1046.32" width="25.60" height="2.10" fill="#e1812c" stroke="#3d3d3d" stroke-width="1"/>
<line x1="633.40" y1="1047.37" x2="659.00" y2="1047.37" stroke="#3d3d3d" stroke-width="1"/>
<path d="M646.20 1035.06 L647.80 1037.56 L646.20 1040.06 L644.60 1037.56Z" fill="#222"/><circle cx="646.20" cy="1037.56" r="1.4" fill="#111"/>
<circle cx="646.20" cy="1046.32" r="1.35" fill="#111"/>
<circle cx="646.20" cy="1047.37" r="1.35" fill="#111"/>
<circle cx="646.20" cy="1048.07" r="1.35" fill="#111"/>
<circle cx="646.20" cy="1049.12" r="1.35" fill="#111"/>
<path d="M614.20 1000.24 V997.26 H646.20 V1000.24" fill="none" stroke="#333" stroke-width="1"/>
<line x1="627.20" y1="985.45" x2="627.20" y2="990.85" stroke="#444" stroke-width="0.8"/><line x1="624.86" y1="986.80" x2="629.54" y2="989.50" stroke="#444" stroke-width="0.8"/><line x1="629.54" y1="986.80" x2="624.86" y2="989.50" stroke="#444" stroke-width="0.8"/><line x1="633.20" y1="985.45" x2="633.20" y2="990.85" stroke="#444" stroke-width="0.8"/><line x1="630.86" y1="986.80" x2="635.54" y2="989.50" stroke="#444" stroke-width="0.8"/><line x1="635.54" y1="986.80" x2="630.86" y2="989.50" stroke="#444" stroke-width="0.8"/>
<text x="614.20" y="1066.70" font-size="9.7" text-anchor="middle" textLength="26.2" lengthAdjust="spacingAndGlyphs" fill="#262626">Fixed</text>
<text x="646.20" y="1066.70" font-size="9.7" text-anchor="middle" textLength="24" lengthAdjust="spacingAndGlyphs" fill="#262626">Sync</text>
<text transform="translate(579.90,1008.15) rotate(-90)" font-size="11.3" text-anchor="middle" fill="#262626">Deviation angle</text>
</g>
<g id="ib4">
<rect x="619.70" y="1105.60" width="64.0" height="96.5" fill="#fff" stroke="none"/>
<text x="615.00" y="1204.45" font-size="6.6" text-anchor="end" textLength="4.15" lengthAdjust="spacingAndGlyphs" fill="#3a3a3a">0</text>
<line x1="619.70" y1="1187.10" x2="683.70" y2="1187.10" stroke="#e0e0e0" stroke-width="0.9"/>
<text x="615.00" y="1189.45" font-size="6.6" text-anchor="end" textLength="4.15" lengthAdjust="spacingAndGlyphs" fill="#3a3a3a">5</text>
<line x1="619.70" y1="1172.11" x2="683.70" y2="1172.11" stroke="#e0e0e0" stroke-width="0.9"/>
<text x="615.00" y="1174.46" font-size="6.6" text-anchor="end" textLength="8.30" lengthAdjust="spacingAndGlyphs" fill="#3a3a3a">10</text>
<line x1="619.70" y1="1157.11" x2="683.70" y2="1157.11" stroke="#e0e0e0" stroke-width="0.9"/>
<text x="615.00" y="1159.46" font-size="6.6" text-anchor="end" textLength="8.30" lengthAdjust="spacingAndGlyphs" fill="#3a3a3a">15</text>
<line x1="619.70" y1="1142.12" x2="683.70" y2="1142.12" stroke="#e0e0e0" stroke-width="0.9"/>
<text x="615.00" y="1144.47" font-size="6.6" text-anchor="end" textLength="8.30" lengthAdjust="spacingAndGlyphs" fill="#3a3a3a">20</text>
<line x1="619.70" y1="1127.12" x2="683.70" y2="1127.12" stroke="#e0e0e0" stroke-width="0.9"/>
<text x="615.00" y="1129.47" font-size="6.6" text-anchor="end" textLength="8.30" lengthAdjust="spacingAndGlyphs" fill="#3a3a3a">25</text>
<rect x="619.70" y="1105.60" width="64.0" height="96.5" fill="none" stroke="#d8d8d8" stroke-width="1"/>
<line x1="635.70" y1="1154.28" x2="635.70" y2="1156.38" stroke="#3d3d3d" stroke-width="1"/>
<line x1="629.30" y1="1154.28" x2="642.10" y2="1154.28" stroke="#3d3d3d" stroke-width="1"/>
<line x1="635.70" y1="1161.46" x2="635.70" y2="1160.41" stroke="#3d3d3d" stroke-width="1"/>
<line x1="629.30" y1="1161.46" x2="642.10" y2="1161.46" stroke="#3d3d3d" stroke-width="1"/>
<rect x="622.90" y="1156.38" width="25.60" height="4.03" fill="#3274a1" stroke="#3d3d3d" stroke-width="1"/>
<line x1="622.90" y1="1158.65" x2="648.50" y2="1158.65" stroke="#3d3d3d" stroke-width="1"/>
<circle cx="635.70" cy="1154.28" r="1.35" fill="#111"/>
<circle cx="635.70" cy="1155.68" r="1.35" fill="#111"/>
<circle cx="635.70" cy="1158.13" r="1.35" fill="#111"/>
<circle cx="635.70" cy="1160.41" r="1.35" fill="#111"/>
<circle cx="635.70" cy="1161.46" r="1.35" fill="#111"/>
<line x1="667.70" y1="1183.18" x2="667.70" y2="1189.14" stroke="#3d3d3d" stroke-width="1"/>
<line x1="661.30" y1="1183.18" x2="674.10" y2="1183.18" stroke="#3d3d3d" stroke-width="1"/>
<line x1="667.70" y1="1196.32" x2="667.70" y2="1194.57" stroke="#3d3d3d" stroke-width="1"/>
<line x1="661.30" y1="1196.32" x2="674.10" y2="1196.32" stroke="#3d3d3d" stroke-width="1"/>
<rect x="654.90" y="1189.14" width="25.60" height="5.43" fill="#e1812c" stroke="#3d3d3d" stroke-width="1"/>
<line x1="654.90" y1="1191.94" x2="680.50" y2="1191.94" stroke="#3d3d3d" stroke-width="1"/>
<circle cx="667.70" cy="1183.18" r="1.35" fill="#111"/>
<circle cx="667.70" cy="1189.14" r="1.35" fill="#111"/>
<circle cx="667.70" cy="1192.82" r="1.35" fill="#111"/>
<circle cx="667.70" cy="1194.57" r="1.35" fill="#111"/>
<circle cx="667.70" cy="1196.32" r="1.35" fill="#111"/>
<path d="M635.70 1150.77 V1147.79 H667.70 V1150.77" fill="none" stroke="#111" stroke-width="1.35"/>
<line x1="648.70" y1="1136.16" x2="648.70" y2="1141.56" stroke="#444" stroke-width="0.8"/><line x1="646.36" y1="1137.51" x2="651.04" y2="1140.21" stroke="#444" stroke-width="0.8"/><line x1="651.04" y1="1137.51" x2="646.36" y2="1140.21" stroke="#444" stroke-width="0.8"/><line x1="654.70" y1="1136.16" x2="654.70" y2="1141.56" stroke="#444" stroke-width="0.8"/><line x1="652.36" y1="1137.51" x2="657.04" y2="1140.21" stroke="#444" stroke-width="0.8"/><line x1="657.04" y1="1137.51" x2="652.36" y2="1140.21" stroke="#444" stroke-width="0.8"/>
<text x="635.70" y="1213.20" font-size="9.7" text-anchor="middle" textLength="26.2" lengthAdjust="spacingAndGlyphs" fill="#262626">Fixed</text>
<text x="667.70" y="1213.20" font-size="9.7" text-anchor="middle" textLength="24" lengthAdjust="spacingAndGlyphs" fill="#262626">Sync</text>
<text transform="translate(601.40,1154.65) rotate(-90)" font-size="11.3" text-anchor="middle" fill="#262626">Deviation angle</text>
</g>
<g id="ib5">
<rect x="597.30" y="1256.50" width="64.0" height="96.5" fill="#fff" stroke="none"/>
<text x="592.60" y="1355.35" font-size="6.6" text-anchor="end" textLength="4.15" lengthAdjust="spacingAndGlyphs" fill="#3a3a3a">0</text>
<line x1="597.30" y1="1338.00" x2="661.30" y2="1338.00" stroke="#e0e0e0" stroke-width="0.9"/>
<text x="592.60" y="1340.35" font-size="6.6" text-anchor="end" textLength="4.15" lengthAdjust="spacingAndGlyphs" fill="#3a3a3a">5</text>
<line x1="597.30" y1="1323.01" x2="661.30" y2="1323.01" stroke="#e0e0e0" stroke-width="0.9"/>
<text x="592.60" y="1325.36" font-size="6.6" text-anchor="end" textLength="8.30" lengthAdjust="spacingAndGlyphs" fill="#3a3a3a">10</text>
<line x1="597.30" y1="1308.01" x2="661.30" y2="1308.01" stroke="#e0e0e0" stroke-width="0.9"/>
<text x="592.60" y="1310.36" font-size="6.6" text-anchor="end" textLength="8.30" lengthAdjust="spacingAndGlyphs" fill="#3a3a3a">15</text>
<line x1="597.30" y1="1293.02" x2="661.30" y2="1293.02" stroke="#e0e0e0" stroke-width="0.9"/>
<text x="592.60" y="1295.37" font-size="6.6" text-anchor="end" textLength="8.30" lengthAdjust="spacingAndGlyphs" fill="#3a3a3a">20</text>
<line x1="597.30" y1="1278.02" x2="661.30" y2="1278.02" stroke="#e0e0e0" stroke-width="0.9"/>
<text x="592.60" y="1280.37" font-size="6.6" text-anchor="end" textLength="8.30" lengthAdjust="spacingAndGlyphs" fill="#3a3a3a">25</text>
<rect x="597.30" y="1256.50" width="64.0" height="96.5" fill="none" stroke="#d8d8d8" stroke-width="1"/>
<line x1="613.30" y1="1307.10" x2="613.30" y2="1307.28" stroke="#3d3d3d" stroke-width="1"/>
<line x1="606.90" y1="1307.10" x2="619.70" y2="1307.10" stroke="#3d3d3d" stroke-width="1"/>
<line x1="613.30" y1="1309.20" x2="613.30" y2="1308.85" stroke="#3d3d3d" stroke-width="1"/>
<line x1="606.90" y1="1309.20" x2="619.70" y2="1309.20" stroke="#3d3d3d" stroke-width="1"/>
<rect x="600.50" y="1307.28" width="25.60" height="1.58" fill="#3274a1" stroke="#3d3d3d" stroke-width="1"/>
<line x1="600.50" y1="1307.98" x2="626.10" y2="1307.98" stroke="#3d3d3d" stroke-width="1"/>
<path d="M613.30 1301.27 L614.90 1303.77 L613.30 1306.27 L611.70 1303.77Z" fill="#222"/><circle cx="613.30" cy="1303.77" r="1.4" fill="#111"/>
<circle cx="613.30" cy="1307.28" r="1.35" fill="#111"/>
<circle cx="613.30" cy="1307.98" r="1.35" fill="#111"/>
<circle cx="613.30" cy="1308.68" r="1.35" fill="#111"/>
<circle cx="613.30" cy="1309.20" r="1.35" fill="#111"/>
<line x1="645.30" y1="1341.96" x2="645.30" y2="1343.01" stroke="#3d3d3d" stroke-width="1"/>
<line x1="638.90" y1="1341.96" x2="651.70" y2="1341.96" stroke="#3d3d3d" stroke-width="1"/>
<line x1="645.30" y1="1350.20" x2="645.30" y2="1348.27" stroke="#3d3d3d" stroke-width="1"/>
<line x1="638.90" y1="1350.20" x2="651.70" y2="1350.20" stroke="#3d3d3d" stroke-width="1"/>
<rect x="632.50" y="1343.01" width="25.60" height="5.26" fill="#e1812c" stroke="#3d3d3d" stroke-width="1"/>
<line x1="632.50" y1="1343.72" x2="658.10" y2="1343.72" stroke="#3d3d3d" stroke-width="1"/>
<circle cx="645.30" cy="1341.96" r="1.35" fill="#111"/>
<circle cx="645.30" cy="1342.84" r="1.35" fill="#111"/>
<circle cx="645.30" cy="1343.36" r="1.35" fill="#111"/>
<circle cx="645.30" cy="1347.74" r="1.35" fill="#111"/>
<circle cx="645.30" cy="1350.20" r="1.35" fill="#111"/>
<path d="M613.30 1300.27 V1297.29 H645.30 V1300.27" fill="none" stroke="#333" stroke-width="1"/>
<line x1="626.30" y1="1285.48" x2="626.30" y2="1290.88" stroke="#444" stroke-width="0.8"/><line x1="623.96" y1="1286.83" x2="628.64" y2="1289.53" stroke="#444" stroke-width="0.8"/><line x1="628.64" y1="1286.83" x2="623.96" y2="1289.53" stroke="#444" stroke-width="0.8"/><line x1="632.30" y1="1285.48" x2="632.30" y2="1290.88" stroke="#444" stroke-width="0.8"/><line x1="629.96" y1="1286.83" x2="634.64" y2="1289.53" stroke="#444" stroke-width="0.8"/><line x1="634.64" y1="1286.83" x2="629.96" y2="1289.53" stroke="#444" stroke-width="0.8"/>
<text x="613.30" y="1364.10" font-size="9.7" text-anchor="middle" textLength="26.2" lengthAdjust="spacingAndGlyphs" fill="#262626">Fixed</text>
<text x="645.30" y="1364.10" font-size="9.7" text-anchor="middle" textLength="24" lengthAdjust="spacingAndGlyphs" fill="#262626">Sync</text>
<text transform="translate(579.00,1305.55) rotate(-90)" font-size="11.3" text-anchor="middle" fill="#262626">Deviation angle</text>
</g>
<g id="ib6">
<rect x="469.80" y="1374.60" width="64.0" height="96.5" fill="#fff" stroke="none"/>
<text x="465.10" y="1473.45" font-size="6.6" text-anchor="end" textLength="4.15" lengthAdjust="spacingAndGlyphs" fill="#3a3a3a">0</text>
<line x1="469.80" y1="1456.10" x2="533.80" y2="1456.10" stroke="#e0e0e0" stroke-width="0.9"/>
<text x="465.10" y="1458.45" font-size="6.6" text-anchor="end" textLength="4.15" lengthAdjust="spacingAndGlyphs" fill="#3a3a3a">5</text>
<line x1="469.80" y1="1441.11" x2="533.80" y2="1441.11" stroke="#e0e0e0" stroke-width="0.9"/>
<text x="465.10" y="1443.46" font-size="6.6" text-anchor="end" textLength="8.30" lengthAdjust="spacingAndGlyphs" fill="#3a3a3a">10</text>
<line x1="469.80" y1="1426.11" x2="533.80" y2="1426.11" stroke="#e0e0e0" stroke-width="0.9"/>
<text x="465.10" y="1428.46" font-size="6.6" text-anchor="end" textLength="8.30" lengthAdjust="spacingAndGlyphs" fill="#3a3a3a">15</text>
<line x1="469.80" y1="1411.12" x2="533.80" y2="1411.12" stroke="#e0e0e0" stroke-width="0.9"/>
<text x="465.10" y="1413.47" font-size="6.6" text-anchor="end" textLength="8.30" lengthAdjust="spacingAndGlyphs" fill="#3a3a3a">20</text>
<line x1="469.80" y1="1396.12" x2="533.80" y2="1396.12" stroke="#e0e0e0" stroke-width="0.9"/>
<text x="465.10" y="1398.47" font-size="6.6" text-anchor="end" textLength="8.30" lengthAdjust="spacingAndGlyphs" fill="#3a3a3a">25</text>
<rect x="469.80" y="1374.60" width="64.0" height="96.5" fill="none" stroke="#d8d8d8" stroke-width="1"/>
<line x1="485.80" y1="1425.20" x2="485.80" y2="1426.25" stroke="#3d3d3d" stroke-width="1"/>
<line x1="479.40" y1="1425.20" x2="492.20" y2="1425.20" stroke="#3d3d3d" stroke-width="1"/>
<line x1="485.80" y1="1433.61" x2="485.80" y2="1431.51" stroke="#3d3d3d" stroke-width="1"/>
<line x1="479.40" y1="1433.61" x2="492.20" y2="1433.61" stroke="#3d3d3d" stroke-width="1"/>
<rect x="473.00" y="1426.25" width="25.60" height="5.26" fill="#3274a1" stroke="#3d3d3d" stroke-width="1"/>
<line x1="473.00" y1="1429.06" x2="498.60" y2="1429.06" stroke="#3d3d3d" stroke-width="1"/>
<circle cx="485.80" cy="1425.20" r="1.35" fill="#111"/>
<circle cx="485.80" cy="1426.60" r="1.35" fill="#111"/>
<circle cx="485.80" cy="1429.06" r="1.35" fill="#111"/>
<circle cx="485.80" cy="1431.33" r="1.35" fill="#111"/>
<circle cx="485.80" cy="1433.61" r="1.35" fill="#111"/>
<line x1="517.80" y1="1446.75" x2="517.80" y2="1457.09" stroke="#3d3d3d" stroke-width="1"/>
<line x1="511.40" y1="1446.75" x2="524.20" y2="1446.75" stroke="#3d3d3d" stroke-width="1"/>
<line x1="517.80" y1="1467.95" x2="517.80" y2="1466.90" stroke="#3d3d3d" stroke-width="1"/>
<line x1="511.40" y1="1467.95" x2="524.20" y2="1467.95" stroke="#3d3d3d" stroke-width="1"/>
<rect x="505.00" y="1457.09" width="25.60" height="9.81" fill="#e1812c" stroke="#3d3d3d" stroke-width="1"/>
<line x1="505.00" y1="1459.36" x2="530.60" y2="1459.36" stroke="#3d3d3d" stroke-width="1"/>
<circle cx="517.80" cy="1446.75" r="1.35" fill="#111"/>
<circle cx="517.80" cy="1457.09" r="1.35" fill="#111"/>
<circle cx="517.80" cy="1459.71" r="1.35" fill="#111"/>
<circle cx="517.80" cy="1466.90" r="1.35" fill="#111"/>
<circle cx="517.80" cy="1467.95" r="1.35" fill="#111"/>
<path d="M485.80 1422.57 V1419.42 H517.80 V1422.57" fill="none" stroke="#333" stroke-width="1"/>
<line x1="498.80" y1="1407.26" x2="498.80" y2="1412.66" stroke="#444" stroke-width="0.8"/><line x1="496.46" y1="1408.61" x2="501.14" y2="1411.31" stroke="#444" stroke-width="0.8"/><line x1="501.14" y1="1408.61" x2="496.46" y2="1411.31" stroke="#444" stroke-width="0.8"/><line x1="504.80" y1="1407.26" x2="504.80" y2="1412.66" stroke="#444" stroke-width="0.8"/><line x1="502.46" y1="1408.61" x2="507.14" y2="1411.31" stroke="#444" stroke-width="0.8"/><line x1="507.14" y1="1408.61" x2="502.46" y2="1411.31" stroke="#444" stroke-width="0.8"/>
<text x="485.80" y="1482.20" font-size="9.7" text-anchor="middle" textLength="26.2" lengthAdjust="spacingAndGlyphs" fill="#262626">Fixed</text>
<text x="517.80" y="1482.20" font-size="9.7" text-anchor="middle" textLength="24" lengthAdjust="spacingAndGlyphs" fill="#262626">Sync</text>
<text transform="translate(451.50,1423.65) rotate(-90)" font-size="11.3" text-anchor="middle" fill="#262626">Deviation angle</text>
</g>
<g id="ib7">
<rect x="322.30" y="1404.50" width="64.0" height="96.5" fill="#fff" stroke="none"/>
<text x="317.60" y="1503.35" font-size="6.6" text-anchor="end" textLength="4.15" lengthAdjust="spacingAndGlyphs" fill="#3a3a3a">0</text>
<line x1="322.30" y1="1486.00" x2="386.30" y2="1486.00" stroke="#e0e0e0" stroke-width="0.9"/>
<text x="317.60" y="1488.35" font-size="6.6" text-anchor="end" textLength="4.15" lengthAdjust="spacingAndGlyphs" fill="#3a3a3a">5</text>
<line x1="322.30" y1="1471.01" x2="386.30" y2="1471.01" stroke="#e0e0e0" stroke-width="0.9"/>
<text x="317.60" y="1473.36" font-size="6.6" text-anchor="end" textLength="8.30" lengthAdjust="spacingAndGlyphs" fill="#3a3a3a">10</text>
<line x1="322.30" y1="1456.01" x2="386.30" y2="1456.01" stroke="#e0e0e0" stroke-width="0.9"/>
<text x="317.60" y="1458.36" font-size="6.6" text-anchor="end" textLength="8.30" lengthAdjust="spacingAndGlyphs" fill="#3a3a3a">15</text>
<line x1="322.30" y1="1441.02" x2="386.30" y2="1441.02" stroke="#e0e0e0" stroke-width="0.9"/>
<text x="317.60" y="1443.37" font-size="6.6" text-anchor="end" textLength="8.30" lengthAdjust="spacingAndGlyphs" fill="#3a3a3a">20</text>
<line x1="322.30" y1="1426.02" x2="386.30" y2="1426.02" stroke="#e0e0e0" stroke-width="0.9"/>
<text x="317.60" y="1428.37" font-size="6.6" text-anchor="end" textLength="8.30" lengthAdjust="spacingAndGlyphs" fill="#3a3a3a">25</text>
<rect x="322.30" y="1404.50" width="64.0" height="96.5" fill="none" stroke="#d8d8d8" stroke-width="1"/>
<line x1="338.30" y1="1456.50" x2="338.30" y2="1461.23" stroke="#3d3d3d" stroke-width="1"/>
<line x1="331.90" y1="1456.50" x2="344.70" y2="1456.50" stroke="#3d3d3d" stroke-width="1"/>
<line x1="338.30" y1="1467.72" x2="338.30" y2="1466.84" stroke="#3d3d3d" stroke-width="1"/>
<line x1="331.90" y1="1467.72" x2="344.70" y2="1467.72" stroke="#3d3d3d" stroke-width="1"/>
<rect x="325.50" y="1461.23" width="25.60" height="5.61" fill="#3274a1" stroke="#3d3d3d" stroke-width="1"/>
<line x1="325.50" y1="1461.93" x2="351.10" y2="1461.93" stroke="#3d3d3d" stroke-width="1"/>
<circle cx="338.30" cy="1456.50" r="1.35" fill="#111"/>
<circle cx="338.30" cy="1461.23" r="1.35" fill="#111"/>
<circle cx="338.30" cy="1461.93" r="1.35" fill="#111"/>
<circle cx="338.30" cy="1466.84" r="1.35" fill="#111"/>
<circle cx="338.30" cy="1467.72" r="1.35" fill="#111"/>
<line x1="370.30" y1="1499.42" x2="370.30" y2="1498.55" stroke="#3d3d3d" stroke-width="1"/>
<line x1="363.90" y1="1499.42" x2="376.70" y2="1499.42" stroke="#3d3d3d" stroke-width="1"/>
<rect x="357.50" y="1488.39" width="25.60" height="10.16" fill="#e1812c" stroke="#3d3d3d" stroke-width="1"/>
<line x1="357.50" y1="1497.50" x2="383.10" y2="1497.50" stroke="#3d3d3d" stroke-width="1"/>
<path d="M370.30 1464.69 L371.90 1467.19 L370.30 1469.69 L368.70 1467.19Z" fill="#222"/><circle cx="370.30" cy="1467.19" r="1.4" fill="#111"/>
<circle cx="370.30" cy="1488.39" r="1.35" fill="#111"/>
<circle cx="370.30" cy="1497.50" r="1.35" fill="#111"/>
<circle cx="370.30" cy="1498.55" r="1.35" fill="#111"/>
<circle cx="370.30" cy="1499.42" r="1.35" fill="#111"/>
<path d="M338.30 1453.18 V1450.20 H370.30 V1453.18" fill="none" stroke="#555" stroke-width="1"/>
<line x1="351.30" y1="1437.86" x2="351.30" y2="1443.26" stroke="#444" stroke-width="0.8"/><line x1="348.96" y1="1439.21" x2="353.64" y2="1441.91" stroke="#444" stroke-width="0.8"/><line x1="353.64" y1="1439.21" x2="348.96" y2="1441.91" stroke="#444" stroke-width="0.8"/><line x1="357.30" y1="1437.86" x2="357.30" y2="1443.26" stroke="#444" stroke-width="0.8"/><line x1="354.96" y1="1439.21" x2="359.64" y2="1441.91" stroke="#444" stroke-width="0.8"/><line x1="359.64" y1="1439.21" x2="354.96" y2="1441.91" stroke="#444" stroke-width="0.8"/>
<text x="338.30" y="1512.10" font-size="9.7" text-anchor="middle" textLength="26.2" lengthAdjust="spacingAndGlyphs" fill="#262626">Fixed</text>
<text x="370.30" y="1512.10" font-size="9.7" text-anchor="middle" textLength="24" lengthAdjust="spacingAndGlyphs" fill="#262626">Sync</text>
<text transform="translate(304.00,1453.55) rotate(-90)" font-size="11.3" text-anchor="middle" fill="#262626">Deviation angle</text>
</g>
<g id="ib8">
<rect x="174.20" y="1374.60" width="64.0" height="96.5" fill="#fff" stroke="none"/>
<text x="169.50" y="1473.45" font-size="6.6" text-anchor="end" textLength="4.15" lengthAdjust="spacingAndGlyphs" fill="#3a3a3a">0</text>
<line x1="174.20" y1="1456.10" x2="238.20" y2="1456.10" stroke="#e0e0e0" stroke-width="0.9"/>
<text x="169.50" y="1458.45" font-size="6.6" text-anchor="end" textLength="4.15" lengthAdjust="spacingAndGlyphs" fill="#3a3a3a">5</text>
<line x1="174.20" y1="1441.11" x2="238.20" y2="1441.11" stroke="#e0e0e0" stroke-width="0.9"/>
<text x="169.50" y="1443.46" font-size="6.6" text-anchor="end" textLength="8.30" lengthAdjust="spacingAndGlyphs" fill="#3a3a3a">10</text>
<line x1="174.20" y1="1426.11" x2="238.20" y2="1426.11" stroke="#e0e0e0" stroke-width="0.9"/>
<text x="169.50" y="1428.46" font-size="6.6" text-anchor="end" textLength="8.30" lengthAdjust="spacingAndGlyphs" fill="#3a3a3a">15</text>
<line x1="174.20" y1="1411.12" x2="238.20" y2="1411.12" stroke="#e0e0e0" stroke-width="0.9"/>
<text x="169.50" y="1413.47" font-size="6.6" text-anchor="end" textLength="8.30" lengthAdjust="spacingAndGlyphs" fill="#3a3a3a">20</text>
<line x1="174.20" y1="1396.12" x2="238.20" y2="1396.12" stroke="#e0e0e0" stroke-width="0.9"/>
<text x="169.50" y="1398.47" font-size="6.6" text-anchor="end" textLength="8.30" lengthAdjust="spacingAndGlyphs" fill="#3a3a3a">25</text>
<rect x="174.20" y="1374.60" width="64.0" height="96.5" fill="none" stroke="#d8d8d8" stroke-width="1"/>
<line x1="190.20" y1="1425.20" x2="190.20" y2="1426.43" stroke="#3d3d3d" stroke-width="1"/>
<line x1="183.80" y1="1425.20" x2="196.60" y2="1425.20" stroke="#3d3d3d" stroke-width="1"/>
<line x1="190.20" y1="1432.74" x2="190.20" y2="1431.86" stroke="#3d3d3d" stroke-width="1"/>
<line x1="183.80" y1="1432.74" x2="196.60" y2="1432.74" stroke="#3d3d3d" stroke-width="1"/>
<rect x="177.40" y="1426.43" width="25.60" height="5.43" fill="#3274a1" stroke="#3d3d3d" stroke-width="1"/>
<line x1="177.40" y1="1429.23" x2="203.00" y2="1429.23" stroke="#3d3d3d" stroke-width="1"/>
<circle cx="190.20" cy="1425.20" r="1.35" fill="#111"/>
<circle cx="190.20" cy="1426.95" r="1.35" fill="#111"/>
<circle cx="190.20" cy="1429.58" r="1.35" fill="#111"/>
<circle cx="190.20" cy="1431.68" r="1.35" fill="#111"/>
<circle cx="190.20" cy="1432.74" r="1.35" fill="#111"/>
<line x1="222.20" y1="1457.26" x2="222.20" y2="1460.41" stroke="#3d3d3d" stroke-width="1"/>
<line x1="215.80" y1="1457.26" x2="228.60" y2="1457.26" stroke="#3d3d3d" stroke-width="1"/>
<line x1="222.20" y1="1468.12" x2="222.20" y2="1466.72" stroke="#3d3d3d" stroke-width="1"/>
<line x1="215.80" y1="1468.12" x2="228.60" y2="1468.12" stroke="#3d3d3d" stroke-width="1"/>
<rect x="209.40" y="1460.41" width="25.60" height="6.31" fill="#e1812c" stroke="#3d3d3d" stroke-width="1"/>
<line x1="209.40" y1="1465.49" x2="235.00" y2="1465.49" stroke="#3d3d3d" stroke-width="1"/>
<circle cx="222.20" cy="1457.26" r="1.35" fill="#111"/>
<circle cx="222.20" cy="1459.01" r="1.35" fill="#111"/>
<circle cx="222.20" cy="1466.02" r="1.35" fill="#111"/>
<circle cx="222.20" cy="1467.25" r="1.35" fill="#111"/>
<circle cx="222.20" cy="1468.12" r="1.35" fill="#111"/>
<path d="M190.20 1422.57 V1419.42 H222.20 V1422.57" fill="none" stroke="#333" stroke-width="1"/>
<line x1="203.20" y1="1407.26" x2="203.20" y2="1412.66" stroke="#444" stroke-width="0.8"/><line x1="200.86" y1="1408.61" x2="205.54" y2="1411.31" stroke="#444" stroke-width="0.8"/><line x1="205.54" y1="1408.61" x2="200.86" y2="1411.31" stroke="#444" stroke-width="0.8"/><line x1="209.20" y1="1407.26" x2="209.20" y2="1412.66" stroke="#444" stroke-width="0.8"/><line x1="206.86" y1="1408.61" x2="211.54" y2="1411.31" stroke="#444" stroke-width="0.8"/><line x1="211.54" y1="1408.61" x2="206.86" y2="1411.31" stroke="#444" stroke-width="0.8"/>
<text x="190.20" y="1482.20" font-size="9.7" text-anchor="middle" textLength="26.2" lengthAdjust="spacingAndGlyphs" fill="#262626">Fixed</text>
<text x="222.20" y="1482.20" font-size="9.7" text-anchor="middle" textLength="24" lengthAdjust="spacingAndGlyphs" fill="#262626">Sync</text>
<text transform="translate(155.90,1423.65) rotate(-90)" font-size="11.3" text-anchor="middle" fill="#262626">Deviation angle</text>
</g>
<g id="ib9">
<rect x="59.60" y="1254.20" width="64.0" height="96.5" fill="#fff" stroke="none"/>
<text x="54.90" y="1353.05" font-size="6.6" text-anchor="end" textLength="4.15" lengthAdjust="spacingAndGlyphs" fill="#3a3a3a">0</text>
<line x1="59.60" y1="1335.70" x2="123.60" y2="1335.70" stroke="#e0e0e0" stroke-width="0.9"/>
<text x="54.90" y="1338.05" font-size="6.6" text-anchor="end" textLength="4.15" lengthAdjust="spacingAndGlyphs" fill="#3a3a3a">5</text>
<line x1="59.60" y1="1320.71" x2="123.60" y2="1320.71" stroke="#e0e0e0" stroke-width="0.9"/>
<text x="54.90" y="1323.06" font-size="6.6" text-anchor="end" textLength="8.30" lengthAdjust="spacingAndGlyphs" fill="#3a3a3a">10</text>
<line x1="59.60" y1="1305.71" x2="123.60" y2="1305.71" stroke="#e0e0e0" stroke-width="0.9"/>
<text x="54.90" y="1308.06" font-size="6.6" text-anchor="end" textLength="8.30" lengthAdjust="spacingAndGlyphs" fill="#3a3a3a">15</text>
<line x1="59.60" y1="1290.72" x2="123.60" y2="1290.72" stroke="#e0e0e0" stroke-width="0.9"/>
<text x="54.90" y="1293.07" font-size="6.6" text-anchor="end" textLength="8.30" lengthAdjust="spacingAndGlyphs" fill="#3a3a3a">20</text>
<line x1="59.60" y1="1275.72" x2="123.60" y2="1275.72" stroke="#e0e0e0" stroke-width="0.9"/>
<text x="54.90" y="1278.07" font-size="6.6" text-anchor="end" textLength="8.30" lengthAdjust="spacingAndGlyphs" fill="#3a3a3a">25</text>
<rect x="59.60" y="1254.20" width="64.0" height="96.5" fill="none" stroke="#d8d8d8" stroke-width="1"/>
<line x1="75.60" y1="1305.68" x2="75.60" y2="1306.03" stroke="#3d3d3d" stroke-width="1"/>
<line x1="69.20" y1="1305.68" x2="82.00" y2="1305.68" stroke="#3d3d3d" stroke-width="1"/>
<line x1="75.60" y1="1309.71" x2="75.60" y2="1309.53" stroke="#3d3d3d" stroke-width="1"/>
<line x1="69.20" y1="1309.71" x2="82.00" y2="1309.71" stroke="#3d3d3d" stroke-width="1"/>
<rect x="62.80" y="1306.03" width="25.60" height="3.50" fill="#3274a1" stroke="#3d3d3d" stroke-width="1"/>
<line x1="62.80" y1="1306.90" x2="88.40" y2="1306.90" stroke="#3d3d3d" stroke-width="1"/>
<path d="M75.60 1294.77 L77.20 1297.27 L75.60 1299.77 L74.00 1297.27Z" fill="#222"/><circle cx="75.60" cy="1297.27" r="1.4" fill="#111"/>
<path d="M75.60 1312.64 L77.20 1315.14 L75.60 1317.64 L74.00 1315.14Z" fill="#222"/><circle cx="75.60" cy="1315.14" r="1.4" fill="#111"/>
<circle cx="75.60" cy="1306.38" r="1.35" fill="#111"/>
<circle cx="75.60" cy="1307.43" r="1.35" fill="#111"/>
<circle cx="75.60" cy="1309.18" r="1.35" fill="#111"/>
<line x1="107.60" y1="1335.81" x2="107.60" y2="1336.16" stroke="#3d3d3d" stroke-width="1"/>
<line x1="101.20" y1="1335.81" x2="114.00" y2="1335.81" stroke="#3d3d3d" stroke-width="1"/>
<line x1="107.60" y1="1349.82" x2="107.60" y2="1346.32" stroke="#3d3d3d" stroke-width="1"/>
<line x1="101.20" y1="1349.82" x2="114.00" y2="1349.82" stroke="#3d3d3d" stroke-width="1"/>
<rect x="94.80" y="1336.16" width="25.60" height="10.16" fill="#e1812c" stroke="#3d3d3d" stroke-width="1"/>
<line x1="94.80" y1="1338.44" x2="120.40" y2="1338.44" stroke="#3d3d3d" stroke-width="1"/>
<path d="M107.60 1284.61 L109.20 1287.11 L107.60 1289.61 L106.00 1287.11Z" fill="#222"/><circle cx="107.60" cy="1287.11" r="1.4" fill="#111"/>
<circle cx="107.60" cy="1336.16" r="1.35" fill="#111"/>
<circle cx="107.60" cy="1338.44" r="1.35" fill="#111"/>
<circle cx="107.60" cy="1346.32" r="1.35" fill="#111"/>
<circle cx="107.60" cy="1349.82" r="1.35" fill="#111"/>
<path d="M75.60 1283.61 V1280.28 H107.60 V1283.61" fill="none" stroke="#333" stroke-width="1"/>
<text x="91.60" y="1279.40" font-size="12" text-anchor="middle" fill="#262626">†</text>
<text x="75.60" y="1361.80" font-size="9.7" text-anchor="middle" textLength="26.2" lengthAdjust="spacingAndGlyphs" fill="#262626">Fixed</text>
<text x="107.60" y="1361.80" font-size="9.7" text-anchor="middle" textLength="24" lengthAdjust="spacingAndGlyphs" fill="#262626">Sync</text>
<text transform="translate(41.30,1303.25) rotate(-90)" font-size="11.3" text-anchor="middle" fill="#262626">Deviation angle</text>
</g>
<g id="ib10">
<rect x="26.30" y="1106.90" width="64.0" height="96.5" fill="#fff" stroke="none"/>
<text x="21.60" y="1205.75" font-size="6.6" text-anchor="end" textLength="4.15" lengthAdjust="spacingAndGlyphs" fill="#3a3a3a">0</text>
<line x1="26.30" y1="1188.40" x2="90.30" y2="1188.40" stroke="#e0e0e0" stroke-width="0.9"/>
<text x="21.60" y="1190.75" font-size="6.6" text-anchor="end" textLength="4.15" lengthAdjust="spacingAndGlyphs" fill="#3a3a3a">5</text>
<line x1="26.30" y1="1173.41" x2="90.30" y2="1173.41" stroke="#e0e0e0" stroke-width="0.9"/>
<text x="21.60" y="1175.76" font-size="6.6" text-anchor="end" textLength="8.30" lengthAdjust="spacingAndGlyphs" fill="#3a3a3a">10</text>
<line x1="26.30" y1="1158.41" x2="90.30" y2="1158.41" stroke="#e0e0e0" stroke-width="0.9"/>
<text x="21.60" y="1160.76" font-size="6.6" text-anchor="end" textLength="8.30" lengthAdjust="spacingAndGlyphs" fill="#3a3a3a">15</text>
<line x1="26.30" y1="1143.42" x2="90.30" y2="1143.42" stroke="#e0e0e0" stroke-width="0.9"/>
<text x="21.60" y="1145.77" font-size="6.6" text-anchor="end" textLength="8.30" lengthAdjust="spacingAndGlyphs" fill="#3a3a3a">20</text>
<line x1="26.30" y1="1128.42" x2="90.30" y2="1128.42" stroke="#e0e0e0" stroke-width="0.9"/>
<text x="21.60" y="1130.77" font-size="6.6" text-anchor="end" textLength="8.30" lengthAdjust="spacingAndGlyphs" fill="#3a3a3a">25</text>
<rect x="26.30" y="1106.90" width="64.0" height="96.5" fill="none" stroke="#d8d8d8" stroke-width="1"/>
<line x1="42.30" y1="1155.22" x2="42.30" y2="1155.58" stroke="#3d3d3d" stroke-width="1"/>
<line x1="35.90" y1="1155.22" x2="48.70" y2="1155.22" stroke="#3d3d3d" stroke-width="1"/>
<line x1="42.30" y1="1159.60" x2="42.30" y2="1158.03" stroke="#3d3d3d" stroke-width="1"/>
<line x1="35.90" y1="1159.60" x2="48.70" y2="1159.60" stroke="#3d3d3d" stroke-width="1"/>
<rect x="29.50" y="1155.58" width="25.60" height="2.45" fill="#3274a1" stroke="#3d3d3d" stroke-width="1"/>
<line x1="29.50" y1="1156.80" x2="55.10" y2="1156.80" stroke="#3d3d3d" stroke-width="1"/>
<path d="M42.30 1147.47 L43.90 1149.97 L42.30 1152.47 L40.70 1149.97Z" fill="#222"/><circle cx="42.30" cy="1149.97" r="1.4" fill="#111"/>
<circle cx="42.30" cy="1155.75" r="1.35" fill="#111"/>
<circle cx="42.30" cy="1156.98" r="1.35" fill="#111"/>
<circle cx="42.30" cy="1158.20" r="1.35" fill="#111"/>
<circle cx="42.30" cy="1159.60" r="1.35" fill="#111"/>
<line x1="74.30" y1="1180.10" x2="74.30" y2="1183.95" stroke="#3d3d3d" stroke-width="1"/>
<line x1="67.90" y1="1180.10" x2="80.70" y2="1180.10" stroke="#3d3d3d" stroke-width="1"/>
<line x1="74.30" y1="1198.32" x2="74.30" y2="1197.62" stroke="#3d3d3d" stroke-width="1"/>
<line x1="67.90" y1="1198.32" x2="80.70" y2="1198.32" stroke="#3d3d3d" stroke-width="1"/>
<rect x="61.50" y="1183.95" width="25.60" height="13.66" fill="#e1812c" stroke="#3d3d3d" stroke-width="1"/>
<line x1="61.50" y1="1190.79" x2="87.10" y2="1190.79" stroke="#3d3d3d" stroke-width="1"/>
<circle cx="74.30" cy="1180.10" r="1.35" fill="#111"/>
<circle cx="74.30" cy="1183.95" r="1.35" fill="#111"/>
<circle cx="74.30" cy="1190.79" r="1.35" fill="#111"/>
<circle cx="74.30" cy="1197.62" r="1.35" fill="#111"/>
<circle cx="74.30" cy="1198.32" r="1.35" fill="#111"/>
<path d="M42.30 1146.29 V1143.31 H74.30 V1146.29" fill="none" stroke="#666" stroke-width="1"/>
<line x1="55.30" y1="1131.68" x2="55.30" y2="1137.08" stroke="#444" stroke-width="0.8"/><line x1="52.96" y1="1133.03" x2="57.64" y2="1135.73" stroke="#444" stroke-width="0.8"/><line x1="57.64" y1="1133.03" x2="52.96" y2="1135.73" stroke="#444" stroke-width="0.8"/><line x1="61.30" y1="1131.68" x2="61.30" y2="1137.08" stroke="#444" stroke-width="0.8"/><line x1="58.96" y1="1133.03" x2="63.64" y2="1135.73" stroke="#444" stroke-width="0.8"/><line x1="63.64" y1="1133.03" x2="58.96" y2="1135.73" stroke="#444" stroke-width="0.8"/>
<text x="42.30" y="1214.50" font-size="9.7" text-anchor="middle" textLength="26.2" lengthAdjust="spacingAndGlyphs" fill="#262626">Fixed</text>
<text x="74.30" y="1214.50" font-size="9.7" text-anchor="middle" textLength="24" lengthAdjust="spacingAndGlyphs" fill="#262626">Sync</text>
<text transform="translate(8.00,1155.95) rotate(-90)" font-size="11.3" text-anchor="middle" fill="#262626">Deviation angle</text>
</g>
<g id="ib11">
<rect x="59.60" y="959.10" width="64.0" height="96.5" fill="#fff" stroke="none"/>
<text x="54.90" y="1057.95" font-size="6.6" text-anchor="end" textLength="4.15" lengthAdjust="spacingAndGlyphs" fill="#3a3a3a">0</text>
<line x1="59.60" y1="1040.60" x2="123.60" y2="1040.60" stroke="#e0e0e0" stroke-width="0.9"/>
<text x="54.90" y="1042.95" font-size="6.6" text-anchor="end" textLength="4.15" lengthAdjust="spacingAndGlyphs" fill="#3a3a3a">5</text>
<line x1="59.60" y1="1025.61" x2="123.60" y2="1025.61" stroke="#e0e0e0" stroke-width="0.9"/>
<text x="54.90" y="1027.96" font-size="6.6" text-anchor="end" textLength="8.30" lengthAdjust="spacingAndGlyphs" fill="#3a3a3a">10</text>
<line x1="59.60" y1="1010.61" x2="123.60" y2="1010.61" stroke="#e0e0e0" stroke-width="0.9"/>
<text x="54.90" y="1012.96" font-size="6.6" text-anchor="end" textLength="8.30" lengthAdjust="spacingAndGlyphs" fill="#3a3a3a">15</text>
<line x1="59.60" y1="995.62" x2="123.60" y2="995.62" stroke="#e0e0e0" stroke-width="0.9"/>
<text x="54.90" y="997.97" font-size="6.6" text-anchor="end" textLength="8.30" lengthAdjust="spacingAndGlyphs" fill="#3a3a3a">20</text>
<line x1="59.60" y1="980.62" x2="123.60" y2="980.62" stroke="#e0e0e0" stroke-width="0.9"/>
<text x="54.90" y="982.97" font-size="6.6" text-anchor="end" textLength="8.30" lengthAdjust="spacingAndGlyphs" fill="#3a3a3a">25</text>
<rect x="59.60" y="959.10" width="64.0" height="96.5" fill="none" stroke="#d8d8d8" stroke-width="1"/>
<line x1="75.60" y1="1008.30" x2="75.60" y2="1010.05" stroke="#3d3d3d" stroke-width="1"/>
<line x1="69.20" y1="1008.30" x2="82.00" y2="1008.30" stroke="#3d3d3d" stroke-width="1"/>
<line x1="75.60" y1="1012.51" x2="75.60" y2="1012.33" stroke="#3d3d3d" stroke-width="1"/>
<line x1="69.20" y1="1012.51" x2="82.00" y2="1012.51" stroke="#3d3d3d" stroke-width="1"/>
<rect x="62.80" y="1010.05" width="25.60" height="2.28" fill="#3274a1" stroke="#3d3d3d" stroke-width="1"/>
<line x1="62.80" y1="1011.28" x2="88.40" y2="1011.28" stroke="#3d3d3d" stroke-width="1"/>
<path d="M75.60 1013.16 L77.20 1015.66 L75.60 1018.16 L74.00 1015.66Z" fill="#222"/><circle cx="75.60" cy="1015.66" r="1.4" fill="#111"/>
<circle cx="75.60" cy="1008.30" r="1.35" fill="#111"/>
<circle cx="75.60" cy="1010.05" r="1.35" fill="#111"/>
<circle cx="75.60" cy="1010.93" r="1.35" fill="#111"/>
<circle cx="75.60" cy="1012.15" r="1.35" fill="#111"/>
<line x1="107.60" y1="1043.16" x2="107.60" y2="1043.34" stroke="#3d3d3d" stroke-width="1"/>
<line x1="101.20" y1="1043.16" x2="114.00" y2="1043.16" stroke="#3d3d3d" stroke-width="1"/>
<line x1="107.60" y1="1048.77" x2="107.60" y2="1048.42" stroke="#3d3d3d" stroke-width="1"/>
<line x1="101.20" y1="1048.77" x2="114.00" y2="1048.77" stroke="#3d3d3d" stroke-width="1"/>
<rect x="94.80" y="1043.34" width="25.60" height="5.08" fill="#e1812c" stroke="#3d3d3d" stroke-width="1"/>
<line x1="94.80" y1="1047.54" x2="120.40" y2="1047.54" stroke="#3d3d3d" stroke-width="1"/>
<path d="M107.60 1028.40 L109.20 1030.90 L107.60 1033.40 L106.00 1030.90Z" fill="#222"/><circle cx="107.60" cy="1030.90" r="1.4" fill="#111"/>
<circle cx="107.60" cy="1043.34" r="1.35" fill="#111"/>
<circle cx="107.60" cy="1047.54" r="1.35" fill="#111"/>
<circle cx="107.60" cy="1048.42" r="1.35" fill="#111"/>
<circle cx="107.60" cy="1048.77" r="1.35" fill="#111"/>
<path d="M75.60 1005.15 V1002.17 H107.60 V1005.15" fill="none" stroke="#333" stroke-width="1"/>
<line x1="88.60" y1="990.18" x2="88.60" y2="995.58" stroke="#444" stroke-width="0.8"/><line x1="86.26" y1="991.53" x2="90.94" y2="994.23" stroke="#444" stroke-width="0.8"/><line x1="90.94" y1="991.53" x2="86.26" y2="994.23" stroke="#444" stroke-width="0.8"/><line x1="94.60" y1="990.18" x2="94.60" y2="995.58" stroke="#444" stroke-width="0.8"/><line x1="92.26" y1="991.53" x2="96.94" y2="994.23" stroke="#444" stroke-width="0.8"/><line x1="96.94" y1="991.53" x2="92.26" y2="994.23" stroke="#444" stroke-width="0.8"/>
<text x="75.60" y="1066.70" font-size="9.7" text-anchor="middle" textLength="26.2" lengthAdjust="spacingAndGlyphs" fill="#262626">Fixed</text>
<text x="107.60" y="1066.70" font-size="9.7" text-anchor="middle" textLength="24" lengthAdjust="spacingAndGlyphs" fill="#262626">Sync</text>
<text transform="translate(41.30,1008.15) rotate(-90)" font-size="11.3" text-anchor="middle" fill="#262626">Deviation angle</text>
</g>
<g id="leg-top">
<rect x="584.3" y="7.1" width="96.2" height="67.2" rx="2.5" ry="2.5" fill="#fff" fill-opacity="0.8" stroke="#cccccc" stroke-width="1"/>
<line x1="589.1" y1="18.1" x2="618.7" y2="18.1" stroke="#000" stroke-width="1.5" stroke-dasharray="4.2 1.8"/>
<circle cx="603.9" cy="18.1" r="3" fill="#000"/>
<line x1="589.1" y1="39.0" x2="618.7" y2="39.0" stroke="#1f77b4" stroke-opacity="1.0" stroke-width="1.5"/>
<circle cx="603.9" cy="39.0" r="3" fill="#1f77b4"/>
<line x1="589.1" y1="60.2" x2="618.7" y2="60.2" stroke="#ff7f0e" stroke-opacity="0.4" stroke-width="1.5"/>
<circle cx="603.9" cy="60.2" r="3" fill="#ff7f0e"/>
<text x="630.4" y="23.30" font-size="14.2" textLength="43.4" lengthAdjust="spacingAndGlyphs" fill="#111">Target</text>
<text x="630.4" y="44.20" font-size="14.2" textLength="36.1" lengthAdjust="spacingAndGlyphs" fill="#111">Fixed</text>
<text x="630.4" y="65.40" font-size="14.2" textLength="33.4" lengthAdjust="spacingAndGlyphs" fill="#111">Sync</text>
</g>
<g id="leg-bot">
<rect x="584.3" y="810.1" width="96.2" height="67.2" rx="2.5" ry="2.5" fill="#fff" fill-opacity="0.8" stroke="#cccccc" stroke-width="1"/>
<line x1="589.1" y1="821.1" x2="618.7" y2="821.1" stroke="#000" stroke-width="1.0" stroke-dasharray="3.7 1.6"/>
<circle cx="603.9" cy="821.1" r="3" fill="#000"/>
<line x1="589.1" y1="842.0" x2="618.7" y2="842.0" stroke="#1f77b4" stroke-opacity="0.4" stroke-width="1.5"/>
<circle cx="603.9" cy="842.0" r="3" fill="#1f77b4"/>
<line x1="589.1" y1="863.2" x2="618.7" y2="863.2" stroke="#ff7f0e" stroke-opacity="1.0" stroke-width="1.5"/>
<circle cx="603.9" cy="863.2" r="3" fill="#ff7f0e"/>
<text x="630.4" y="826.30" font-size="14.2" textLength="43.4" lengthAdjust="spacingAndGlyphs" fill="#111">Target</text>
<text x="630.4" y="847.20" font-size="14.2" textLength="36.1" lengthAdjust="spacingAndGlyphs" fill="#111">Fixed</text>
<text x="630.4" y="868.40" font-size="14.2" textLength="33.4" lengthAdjust="spacingAndGlyphs" fill="#111">Sync</text>
</g>
<text x="281.0" y="764.6" font-family="Liberation Serif, serif" font-size="28.5" fill="#000">(</text>
<text x="290.2" y="764" font-family="Liberation Serif, serif" font-size="25.5" fill="#000">c</text>
<text x="299.6" y="764.6" font-family="Liberation Serif, serif" font-size="28.5" fill="#000">)</text>
<text x="319.8" y="764" font-family="Liberation Serif, serif" font-size="25.5" fill="#000" font-style="italic">θ</text>
<line x1="340.7" y1="755.3" x2="357.5" y2="755.3" stroke="#000" stroke-width="1.05"/>
<line x1="340.7" y1="760.0" x2="357.5" y2="760.0" stroke="#000" stroke-width="1.05"/>
<text x="367.2" y="764" font-family="Liberation Serif, serif" font-size="25.5" fill="#000" textLength="23.4" lengthAdjust="spacingAndGlyphs">20</text>
<circle cx="398.3" cy="749.7" r="3.9" fill="none" stroke="#000" stroke-width="1.0"/>
<text x="279.6" y="1565.8" font-family="Liberation Serif, serif" font-size="28.5" fill="#000">(</text>
<text x="289.0" y="1565.2" font-family="Liberation Serif, serif" font-size="25.5" fill="#000">d</text>
<text x="302.5" y="1565.8" font-family="Liberation Serif, serif" font-size="28.5" fill="#000">)</text>
<text x="321.0" y="1565.2" font-family="Liberation Serif, serif" font-size="25.5" fill="#000" font-style="italic">θ</text>
<line x1="342.0" y1="1556.5" x2="358.8" y2="1556.5" stroke="#000" stroke-width="1.05"/>
<line x1="342.0" y1="1561.2" x2="358.8" y2="1561.2" stroke="#000" stroke-width="1.05"/>
<text x="368.4" y="1565.2" font-family="Liberation Serif, serif" font-size="25.5" fill="#000" textLength="23.4" lengthAdjust="spacingAndGlyphs">30</text>
<circle cx="399.3" cy="1550.9" r="3.9" fill="none" stroke="#000" stroke-width="1.0"/>
</svg></body></html>
